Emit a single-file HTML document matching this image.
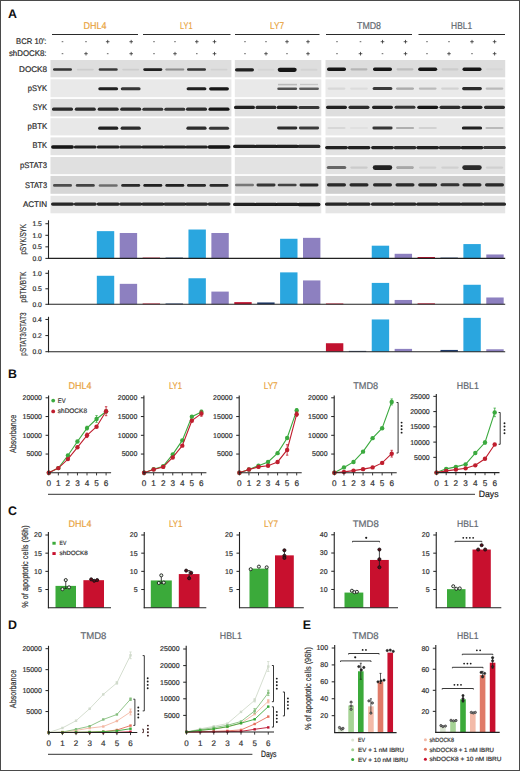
<!DOCTYPE html>
<html><head><meta charset="utf-8"><style>
html,body{margin:0;padding:0;background:#fff;}
svg{display:block;font-family:"Liberation Sans",sans-serif;text-rendering:geometricPrecision;}
</style></head><body>
<svg width="520" height="771" viewBox="0 0 520 771" font-family="Liberation Sans, sans-serif" fill="#222">
<rect x="0" y="0" width="520" height="771" fill="#fff"/>
<text x="8.00" y="18.20" font-size="12.4" fill="#111" font-weight="bold">A</text>
<text x="8.00" y="378.20" font-size="12.4" fill="#111" font-weight="bold">B</text>
<text x="8.00" y="515.20" font-size="12.4" fill="#111" font-weight="bold">C</text>
<text x="8.00" y="628.60" font-size="12.4" fill="#111" font-weight="bold">D</text>
<text x="302.80" y="628.80" font-size="12.4" fill="#111" font-weight="bold">E</text>
<text x="95.00" y="29.20" font-size="9.9" fill="#E9A441" stroke="#E9A441" stroke-width="0.2" text-anchor="middle" textLength="23" lengthAdjust="spacingAndGlyphs">DHL4</text>
<text x="186.20" y="29.20" font-size="9.9" fill="#E9A441" stroke="#E9A441" stroke-width="0.2" text-anchor="middle" textLength="12.6" lengthAdjust="spacingAndGlyphs">LY1</text>
<text x="277.00" y="29.20" font-size="9.9" fill="#E9A441" stroke="#E9A441" stroke-width="0.2" text-anchor="middle" textLength="14" lengthAdjust="spacingAndGlyphs">LY7</text>
<text x="369.00" y="29.20" font-size="9.9" fill="#626870" stroke="#626870" stroke-width="0.2" text-anchor="middle" textLength="24" lengthAdjust="spacingAndGlyphs">TMD8</text>
<text x="461.60" y="29.20" font-size="9.9" fill="#626870" stroke="#626870" stroke-width="0.2" text-anchor="middle" textLength="21" lengthAdjust="spacingAndGlyphs">HBL1</text>
<line x1="52.00" y1="34.50" x2="138.00" y2="34.50" stroke="#2a2a2a" stroke-width="1.1"/>
<line x1="143.00" y1="34.50" x2="230.50" y2="34.50" stroke="#2a2a2a" stroke-width="1.1"/>
<line x1="235.00" y1="34.50" x2="319.50" y2="34.50" stroke="#2a2a2a" stroke-width="1.1"/>
<line x1="326.00" y1="34.50" x2="412.00" y2="34.50" stroke="#2a2a2a" stroke-width="1.1"/>
<line x1="418.50" y1="34.50" x2="505.00" y2="34.50" stroke="#2a2a2a" stroke-width="1.1"/>
<text x="46.50" y="43.70" font-size="8.2" fill="#2a2a2a" stroke="#2a2a2a" stroke-width="0.2" text-anchor="end" textLength="30.4" lengthAdjust="spacingAndGlyphs">BCR 10':</text>
<text x="46.50" y="56.00" font-size="8.2" fill="#2a2a2a" stroke="#2a2a2a" stroke-width="0.2" text-anchor="end" textLength="37.6" lengthAdjust="spacingAndGlyphs">shDOCK8:</text>
<line x1="61.70" y1="41.70" x2="63.30" y2="41.70" stroke="#555" stroke-width="0.9"/>
<line x1="61.70" y1="53.70" x2="63.30" y2="53.70" stroke="#555" stroke-width="0.9"/>
<line x1="85.20" y1="41.70" x2="86.80" y2="41.70" stroke="#555" stroke-width="0.9"/>
<line x1="84.20" y1="53.70" x2="87.80" y2="53.70" stroke="#333" stroke-width="0.8"/>
<line x1="86.00" y1="51.90" x2="86.00" y2="55.50" stroke="#333" stroke-width="0.8"/>
<line x1="105.90" y1="41.70" x2="109.50" y2="41.70" stroke="#333" stroke-width="0.8"/>
<line x1="107.70" y1="39.90" x2="107.70" y2="43.50" stroke="#333" stroke-width="0.8"/>
<line x1="106.90" y1="53.70" x2="108.50" y2="53.70" stroke="#555" stroke-width="0.9"/>
<line x1="129.40" y1="41.70" x2="133.00" y2="41.70" stroke="#333" stroke-width="0.8"/>
<line x1="131.20" y1="39.90" x2="131.20" y2="43.50" stroke="#333" stroke-width="0.8"/>
<line x1="129.40" y1="53.70" x2="133.00" y2="53.70" stroke="#333" stroke-width="0.8"/>
<line x1="131.20" y1="51.90" x2="131.20" y2="55.50" stroke="#333" stroke-width="0.8"/>
<line x1="153.20" y1="41.70" x2="154.80" y2="41.70" stroke="#555" stroke-width="0.9"/>
<line x1="153.20" y1="53.70" x2="154.80" y2="53.70" stroke="#555" stroke-width="0.9"/>
<line x1="174.20" y1="41.70" x2="175.80" y2="41.70" stroke="#555" stroke-width="0.9"/>
<line x1="173.20" y1="53.70" x2="176.80" y2="53.70" stroke="#333" stroke-width="0.8"/>
<line x1="175.00" y1="51.90" x2="175.00" y2="55.50" stroke="#333" stroke-width="0.8"/>
<line x1="195.00" y1="41.70" x2="198.60" y2="41.70" stroke="#333" stroke-width="0.8"/>
<line x1="196.80" y1="39.90" x2="196.80" y2="43.50" stroke="#333" stroke-width="0.8"/>
<line x1="196.00" y1="53.70" x2="197.60" y2="53.70" stroke="#555" stroke-width="0.9"/>
<line x1="212.70" y1="41.70" x2="216.30" y2="41.70" stroke="#333" stroke-width="0.8"/>
<line x1="214.50" y1="39.90" x2="214.50" y2="43.50" stroke="#333" stroke-width="0.8"/>
<line x1="212.70" y1="53.70" x2="216.30" y2="53.70" stroke="#333" stroke-width="0.8"/>
<line x1="214.50" y1="51.90" x2="214.50" y2="55.50" stroke="#333" stroke-width="0.8"/>
<line x1="244.20" y1="41.70" x2="245.80" y2="41.70" stroke="#555" stroke-width="0.9"/>
<line x1="244.20" y1="53.70" x2="245.80" y2="53.70" stroke="#555" stroke-width="0.9"/>
<line x1="265.20" y1="41.70" x2="266.80" y2="41.70" stroke="#555" stroke-width="0.9"/>
<line x1="264.20" y1="53.70" x2="267.80" y2="53.70" stroke="#333" stroke-width="0.8"/>
<line x1="266.00" y1="51.90" x2="266.00" y2="55.50" stroke="#333" stroke-width="0.8"/>
<line x1="285.20" y1="41.70" x2="288.80" y2="41.70" stroke="#333" stroke-width="0.8"/>
<line x1="287.00" y1="39.90" x2="287.00" y2="43.50" stroke="#333" stroke-width="0.8"/>
<line x1="286.20" y1="53.70" x2="287.80" y2="53.70" stroke="#555" stroke-width="0.9"/>
<line x1="306.20" y1="41.70" x2="309.80" y2="41.70" stroke="#333" stroke-width="0.8"/>
<line x1="308.00" y1="39.90" x2="308.00" y2="43.50" stroke="#333" stroke-width="0.8"/>
<line x1="306.20" y1="53.70" x2="309.80" y2="53.70" stroke="#333" stroke-width="0.8"/>
<line x1="308.00" y1="51.90" x2="308.00" y2="55.50" stroke="#333" stroke-width="0.8"/>
<line x1="336.20" y1="41.70" x2="337.80" y2="41.70" stroke="#555" stroke-width="0.9"/>
<line x1="336.20" y1="53.70" x2="337.80" y2="53.70" stroke="#555" stroke-width="0.9"/>
<line x1="359.70" y1="41.70" x2="361.30" y2="41.70" stroke="#555" stroke-width="0.9"/>
<line x1="358.70" y1="53.70" x2="362.30" y2="53.70" stroke="#333" stroke-width="0.8"/>
<line x1="360.50" y1="51.90" x2="360.50" y2="55.50" stroke="#333" stroke-width="0.8"/>
<line x1="380.70" y1="41.70" x2="384.30" y2="41.70" stroke="#333" stroke-width="0.8"/>
<line x1="382.50" y1="39.90" x2="382.50" y2="43.50" stroke="#333" stroke-width="0.8"/>
<line x1="381.70" y1="53.70" x2="383.30" y2="53.70" stroke="#555" stroke-width="0.9"/>
<line x1="403.70" y1="41.70" x2="407.30" y2="41.70" stroke="#333" stroke-width="0.8"/>
<line x1="405.50" y1="39.90" x2="405.50" y2="43.50" stroke="#333" stroke-width="0.8"/>
<line x1="403.70" y1="53.70" x2="407.30" y2="53.70" stroke="#333" stroke-width="0.8"/>
<line x1="405.50" y1="51.90" x2="405.50" y2="55.50" stroke="#333" stroke-width="0.8"/>
<line x1="426.20" y1="41.70" x2="427.80" y2="41.70" stroke="#555" stroke-width="0.9"/>
<line x1="426.20" y1="53.70" x2="427.80" y2="53.70" stroke="#555" stroke-width="0.9"/>
<line x1="448.20" y1="41.70" x2="449.80" y2="41.70" stroke="#555" stroke-width="0.9"/>
<line x1="447.20" y1="53.70" x2="450.80" y2="53.70" stroke="#333" stroke-width="0.8"/>
<line x1="449.00" y1="51.90" x2="449.00" y2="55.50" stroke="#333" stroke-width="0.8"/>
<line x1="470.20" y1="41.70" x2="473.80" y2="41.70" stroke="#333" stroke-width="0.8"/>
<line x1="472.00" y1="39.90" x2="472.00" y2="43.50" stroke="#333" stroke-width="0.8"/>
<line x1="471.20" y1="53.70" x2="472.80" y2="53.70" stroke="#555" stroke-width="0.9"/>
<line x1="492.80" y1="41.70" x2="496.40" y2="41.70" stroke="#333" stroke-width="0.8"/>
<line x1="494.60" y1="39.90" x2="494.60" y2="43.50" stroke="#333" stroke-width="0.8"/>
<line x1="492.80" y1="53.70" x2="496.40" y2="53.70" stroke="#333" stroke-width="0.8"/>
<line x1="494.60" y1="51.90" x2="494.60" y2="55.50" stroke="#333" stroke-width="0.8"/>
<text x="47.10" y="71.90" font-size="8.2" fill="#2a2a2a" stroke="#2a2a2a" stroke-width="0.2" text-anchor="end" textLength="28.1" lengthAdjust="spacingAndGlyphs">DOCK8</text>
<text x="47.10" y="90.80" font-size="8.2" fill="#2a2a2a" stroke="#2a2a2a" stroke-width="0.2" text-anchor="end" textLength="19.3" lengthAdjust="spacingAndGlyphs">pSYK</text>
<text x="47.10" y="109.60" font-size="8.2" fill="#2a2a2a" stroke="#2a2a2a" stroke-width="0.2" text-anchor="end" textLength="14.3" lengthAdjust="spacingAndGlyphs">SYK</text>
<text x="47.10" y="128.80" font-size="8.2" fill="#2a2a2a" stroke="#2a2a2a" stroke-width="0.2" text-anchor="end" textLength="19.5" lengthAdjust="spacingAndGlyphs">pBTK</text>
<text x="47.10" y="148.40" font-size="8.2" fill="#2a2a2a" stroke="#2a2a2a" stroke-width="0.2" text-anchor="end" textLength="14.5" lengthAdjust="spacingAndGlyphs">BTK</text>
<text x="47.10" y="167.60" font-size="8.2" fill="#2a2a2a" stroke="#2a2a2a" stroke-width="0.2" text-anchor="end" textLength="27.2" lengthAdjust="spacingAndGlyphs">pSTAT3</text>
<text x="47.10" y="187.70" font-size="8.2" fill="#2a2a2a" stroke="#2a2a2a" stroke-width="0.2" text-anchor="end" textLength="22.2" lengthAdjust="spacingAndGlyphs">STAT3</text>
<text x="47.10" y="206.50" font-size="8.2" fill="#2a2a2a" stroke="#2a2a2a" stroke-width="0.2" text-anchor="end" textLength="24.2" lengthAdjust="spacingAndGlyphs">ACTIN</text>
<defs><filter id="bl" x="-20%" y="-200%" width="140%" height="500%"><feGaussianBlur stdDeviation="0.65"/></filter></defs>
<rect x="50.50" y="60.00" width="180.90" height="17.30" fill="#dedede"/>
<rect x="234.80" y="60.00" width="86.50" height="17.30" fill="#dedede"/>
<rect x="325.50" y="60.00" width="179.70" height="17.30" fill="#dddddd"/>
<g filter="url(#bl)"><rect x="53.00" y="68.33" width="19.0" height="2.54" rx="1.27" fill="rgba(20,20,20,0.85)"/><rect x="76.80" y="68.75" width="17.0" height="1.71" rx="0.85" fill="rgba(20,20,20,0.08)"/><rect x="98.70" y="68.36" width="19.0" height="2.48" rx="1.24" fill="rgba(20,20,20,0.80)"/><rect x="122.20" y="68.75" width="17.0" height="1.71" rx="0.85" fill="rgba(20,20,20,0.08)"/><rect x="143.30" y="68.28" width="19.0" height="2.65" rx="1.32" fill="rgba(20,20,20,0.95)"/><rect x="165.30" y="68.57" width="19.0" height="2.05" rx="1.03" fill="rgba(20,20,20,0.40)"/><rect x="187.00" y="68.33" width="19.0" height="2.54" rx="1.27" fill="rgba(20,20,20,0.85)"/><rect x="210.50" y="68.76" width="17.0" height="1.68" rx="0.84" fill="rgba(20,20,20,0.06)"/><rect x="235.00" y="68.13" width="19.0" height="3.33" rx="1.67" fill="rgba(20,20,20,0.95)"/><rect x="257.50" y="68.75" width="17.0" height="2.09" rx="1.05" fill="rgba(20,20,20,0.04)"/><rect x="277.70" y="67.65" width="19.0" height="4.30" rx="2.15" fill="rgba(20,20,20,1.00)"/><rect x="300.50" y="68.75" width="17.0" height="2.11" rx="1.05" fill="rgba(20,20,20,0.05)"/><rect x="327.00" y="67.60" width="19.0" height="3.40" rx="1.70" fill="rgba(20,20,20,1.00)"/><rect x="350.50" y="68.16" width="17.0" height="2.28" rx="1.14" fill="rgba(20,20,20,0.18)"/><rect x="373.00" y="67.60" width="19.0" height="3.40" rx="1.70" fill="rgba(20,20,20,1.00)"/><rect x="396.50" y="68.18" width="17.0" height="2.23" rx="1.12" fill="rgba(20,20,20,0.14)"/><rect x="418.20" y="67.60" width="19.0" height="3.40" rx="1.70" fill="rgba(20,20,20,1.00)"/><rect x="441.50" y="68.23" width="17.0" height="2.15" rx="1.07" fill="rgba(20,20,20,0.08)"/><rect x="462.50" y="67.60" width="19.0" height="3.40" rx="1.70" fill="rgba(20,20,20,1.00)"/><rect x="486.00" y="68.26" width="17.0" height="2.08" rx="1.04" fill="rgba(20,20,20,0.03)"/></g>
<rect x="50.50" y="79.30" width="180.90" height="17.90" fill="#e9e9e9"/>
<rect x="234.80" y="79.30" width="86.50" height="17.90" fill="#e9e9e9"/>
<rect x="325.50" y="79.30" width="179.70" height="17.90" fill="#eaeaea"/>
<g filter="url(#bl)"><rect x="98.30" y="87.23" width="19.8" height="3.14" rx="1.57" fill="rgba(20,20,20,0.95)"/><rect x="120.80" y="87.30" width="19.8" height="3.01" rx="1.50" fill="rgba(20,20,20,0.85)"/><rect x="186.60" y="87.23" width="19.8" height="3.14" rx="1.57" fill="rgba(20,20,20,0.95)"/><rect x="209.10" y="87.20" width="19.8" height="3.20" rx="1.60" fill="rgba(20,20,20,1.00)"/><rect x="277.30" y="87.57" width="19.8" height="2.46" rx="1.23" fill="rgba(20,20,20,0.70)"/><rect x="299.10" y="87.60" width="19.8" height="2.41" rx="1.20" fill="rgba(20,20,20,0.65)"/><rect x="327.60" y="87.56" width="17.8" height="2.09" rx="1.04" fill="rgba(20,20,20,0.08)"/><rect x="350.10" y="87.57" width="17.8" height="2.06" rx="1.03" fill="rgba(20,20,20,0.06)"/><rect x="372.60" y="87.08" width="19.8" height="3.04" rx="1.52" fill="rgba(20,20,20,0.80)"/><rect x="396.10" y="87.41" width="17.8" height="2.38" rx="1.19" fill="rgba(20,20,20,0.30)"/><rect x="418.80" y="87.48" width="17.8" height="2.24" rx="1.12" fill="rgba(20,20,20,0.20)"/><rect x="441.10" y="87.54" width="17.8" height="2.11" rx="1.06" fill="rgba(20,20,20,0.10)"/><rect x="462.10" y="87.02" width="19.8" height="3.17" rx="1.58" fill="rgba(20,20,20,0.90)"/><rect x="485.60" y="87.48" width="17.8" height="2.24" rx="1.12" fill="rgba(20,20,20,0.20)"/></g>
<rect x="50.50" y="98.90" width="180.90" height="17.50" fill="#dedede"/>
<rect x="234.80" y="98.90" width="86.50" height="17.50" fill="#e0e0e0"/>
<rect x="325.50" y="98.90" width="179.70" height="17.50" fill="#dedede"/>
<g filter="url(#bl)"><rect x="52.00" y="107.62" width="21.0" height="3.17" rx="1.58" fill="rgba(20,20,20,0.90)"/><rect x="74.80" y="107.62" width="21.0" height="3.17" rx="1.58" fill="rgba(20,20,20,0.90)"/><rect x="97.70" y="107.62" width="21.0" height="3.17" rx="1.58" fill="rgba(20,20,20,0.90)"/><rect x="120.20" y="107.62" width="21.0" height="3.17" rx="1.58" fill="rgba(20,20,20,0.90)"/><rect x="142.30" y="107.65" width="21.0" height="3.10" rx="1.55" fill="rgba(20,20,20,0.85)"/><rect x="164.30" y="107.65" width="21.0" height="3.10" rx="1.55" fill="rgba(20,20,20,0.85)"/><rect x="186.00" y="107.62" width="21.0" height="3.17" rx="1.58" fill="rgba(20,20,20,0.90)"/><rect x="208.50" y="107.55" width="21.0" height="3.30" rx="1.65" fill="rgba(20,20,20,1.00)"/><rect x="234.00" y="105.83" width="21.0" height="3.14" rx="1.57" fill="rgba(20,20,20,0.95)"/><rect x="255.50" y="105.86" width="21.0" height="3.07" rx="1.54" fill="rgba(20,20,20,0.90)"/><rect x="276.70" y="105.83" width="21.0" height="3.14" rx="1.57" fill="rgba(20,20,20,0.95)"/><rect x="298.50" y="105.90" width="21.0" height="3.01" rx="1.50" fill="rgba(20,20,20,0.85)"/><rect x="326.00" y="105.68" width="21.0" height="3.23" rx="1.62" fill="rgba(20,20,20,0.95)"/><rect x="348.50" y="105.72" width="21.0" height="3.17" rx="1.58" fill="rgba(20,20,20,0.90)"/><rect x="372.00" y="105.68" width="21.0" height="3.23" rx="1.62" fill="rgba(20,20,20,0.95)"/><rect x="394.50" y="105.75" width="21.0" height="3.10" rx="1.55" fill="rgba(20,20,20,0.85)"/><rect x="417.20" y="105.65" width="21.0" height="3.30" rx="1.65" fill="rgba(20,20,20,1.00)"/><rect x="439.50" y="105.72" width="21.0" height="3.17" rx="1.58" fill="rgba(20,20,20,0.90)"/><rect x="461.50" y="105.68" width="21.0" height="3.23" rx="1.62" fill="rgba(20,20,20,0.95)"/><rect x="484.00" y="105.72" width="21.0" height="3.17" rx="1.58" fill="rgba(20,20,20,0.90)"/></g>
<rect x="50.50" y="118.20" width="180.90" height="17.20" fill="#e8e8e8"/>
<rect x="234.80" y="118.20" width="86.50" height="17.20" fill="#e6e6e6"/>
<rect x="325.50" y="118.20" width="179.70" height="17.20" fill="#e9e9e9"/>
<g filter="url(#bl)"><rect x="98.10" y="126.58" width="20.2" height="3.23" rx="1.62" fill="rgba(20,20,20,0.95)"/><rect x="120.60" y="126.62" width="20.2" height="3.17" rx="1.58" fill="rgba(20,20,20,0.90)"/><rect x="186.40" y="126.62" width="20.2" height="3.17" rx="1.58" fill="rgba(20,20,20,0.90)"/><rect x="208.90" y="126.65" width="20.2" height="3.10" rx="1.55" fill="rgba(20,20,20,0.85)"/><rect x="277.10" y="126.51" width="20.2" height="2.98" rx="1.49" fill="rgba(20,20,20,0.90)"/><rect x="298.90" y="126.57" width="20.2" height="2.85" rx="1.43" fill="rgba(20,20,20,0.80)"/><rect x="327.40" y="127.02" width="18.2" height="1.96" rx="0.98" fill="rgba(20,20,20,0.08)"/><rect x="349.90" y="127.05" width="18.2" height="1.91" rx="0.95" fill="rgba(20,20,20,0.04)"/><rect x="372.40" y="126.54" width="20.2" height="2.91" rx="1.46" fill="rgba(20,20,20,0.85)"/><rect x="395.90" y="126.92" width="18.2" height="2.17" rx="1.08" fill="rgba(20,20,20,0.25)"/><rect x="418.60" y="127.01" width="18.2" height="1.98" rx="0.99" fill="rgba(20,20,20,0.10)"/><rect x="461.90" y="126.48" width="20.2" height="3.04" rx="1.52" fill="rgba(20,20,20,0.95)"/><rect x="485.40" y="126.95" width="18.2" height="2.11" rx="1.05" fill="rgba(20,20,20,0.20)"/></g>
<rect x="50.50" y="137.40" width="180.90" height="17.80" fill="#e3e3e3"/>
<rect x="234.80" y="137.40" width="86.50" height="17.80" fill="#e4e4e4"/>
<rect x="325.50" y="137.40" width="179.70" height="17.80" fill="#e2e2e2"/>
<g filter="url(#bl)"><rect x="51.10" y="145.35" width="22.8" height="3.30" rx="1.65" fill="rgba(20,20,20,1.00)"/><rect x="73.90" y="145.38" width="22.8" height="3.23" rx="1.62" fill="rgba(20,20,20,0.95)"/><rect x="96.80" y="145.38" width="22.8" height="3.23" rx="1.62" fill="rgba(20,20,20,0.95)"/><rect x="119.30" y="145.42" width="22.8" height="3.17" rx="1.58" fill="rgba(20,20,20,0.90)"/><rect x="141.40" y="145.38" width="22.8" height="3.23" rx="1.62" fill="rgba(20,20,20,0.95)"/><rect x="163.40" y="145.38" width="22.8" height="3.23" rx="1.62" fill="rgba(20,20,20,0.95)"/><rect x="185.10" y="145.38" width="22.8" height="3.23" rx="1.62" fill="rgba(20,20,20,0.95)"/><rect x="207.60" y="145.35" width="22.8" height="3.30" rx="1.65" fill="rgba(20,20,20,1.00)"/><rect x="233.10" y="144.83" width="22.8" height="3.14" rx="1.57" fill="rgba(20,20,20,0.95)"/><rect x="254.60" y="144.83" width="22.8" height="3.14" rx="1.57" fill="rgba(20,20,20,0.95)"/><rect x="275.80" y="144.83" width="22.8" height="3.14" rx="1.57" fill="rgba(20,20,20,0.95)"/><rect x="297.60" y="144.86" width="22.8" height="3.07" rx="1.54" fill="rgba(20,20,20,0.90)"/><rect x="325.10" y="146.03" width="22.8" height="3.14" rx="1.57" fill="rgba(20,20,20,0.95)"/><rect x="347.60" y="146.03" width="22.8" height="3.14" rx="1.57" fill="rgba(20,20,20,0.95)"/><rect x="371.10" y="146.03" width="22.8" height="3.14" rx="1.57" fill="rgba(20,20,20,0.95)"/><rect x="393.60" y="146.06" width="22.8" height="3.07" rx="1.54" fill="rgba(20,20,20,0.90)"/><rect x="416.30" y="146.03" width="22.8" height="3.14" rx="1.57" fill="rgba(20,20,20,0.95)"/><rect x="438.60" y="146.06" width="22.8" height="3.07" rx="1.54" fill="rgba(20,20,20,0.90)"/><rect x="460.60" y="146.03" width="22.8" height="3.14" rx="1.57" fill="rgba(20,20,20,0.95)"/><rect x="483.10" y="146.10" width="22.8" height="3.01" rx="1.50" fill="rgba(20,20,20,0.85)"/></g>
<rect x="50.50" y="157.00" width="180.90" height="17.20" fill="#e0e0e0"/>
<rect x="234.80" y="157.00" width="86.50" height="17.20" fill="#e3e3e3"/>
<rect x="325.50" y="157.00" width="179.70" height="17.20" fill="#e2e2e2"/>
<g filter="url(#bl)"><rect x="326.75" y="166.09" width="19.5" height="3.02" rx="1.51" fill="rgba(20,20,20,0.60)"/><rect x="350.25" y="166.45" width="17.5" height="2.30" rx="1.15" fill="rgba(20,20,20,0.10)"/><rect x="372.75" y="165.30" width="19.5" height="4.60" rx="2.30" fill="rgba(20,20,20,0.95)"/><rect x="396.25" y="166.30" width="17.5" height="2.59" rx="1.30" fill="rgba(20,20,20,0.30)"/><rect x="418.95" y="166.46" width="17.5" height="2.28" rx="1.14" fill="rgba(20,20,20,0.08)"/><rect x="441.25" y="166.46" width="17.5" height="2.28" rx="1.14" fill="rgba(20,20,20,0.08)"/><rect x="462.25" y="165.30" width="19.5" height="4.60" rx="2.30" fill="rgba(20,20,20,0.90)"/><rect x="485.75" y="166.46" width="17.5" height="2.28" rx="1.14" fill="rgba(20,20,20,0.08)"/></g>
<rect x="50.50" y="175.90" width="180.90" height="17.90" fill="#d6d6d6"/>
<rect x="234.80" y="175.90" width="86.50" height="17.90" fill="#d8d8d8"/>
<rect x="325.50" y="175.90" width="179.70" height="17.90" fill="#cecece"/>
<g filter="url(#bl)"><rect x="53.00" y="184.08" width="19.0" height="2.64" rx="1.32" fill="rgba(20,20,20,0.70)"/><rect x="75.80" y="184.05" width="19.0" height="2.70" rx="1.35" fill="rgba(20,20,20,0.75)"/><rect x="98.70" y="184.17" width="19.0" height="2.46" rx="1.23" fill="rgba(20,20,20,0.55)"/><rect x="121.20" y="183.96" width="19.0" height="2.88" rx="1.44" fill="rgba(20,20,20,0.90)"/><rect x="143.30" y="183.93" width="19.0" height="2.94" rx="1.47" fill="rgba(20,20,20,0.95)"/><rect x="165.30" y="183.93" width="19.0" height="2.94" rx="1.47" fill="rgba(20,20,20,0.95)"/><rect x="187.00" y="183.96" width="19.0" height="2.88" rx="1.44" fill="rgba(20,20,20,0.90)"/><rect x="209.50" y="183.96" width="19.0" height="2.88" rx="1.44" fill="rgba(20,20,20,0.90)"/><rect x="235.00" y="183.80" width="19.0" height="2.40" rx="1.20" fill="rgba(20,20,20,0.50)"/><rect x="256.50" y="183.59" width="19.0" height="2.82" rx="1.41" fill="rgba(20,20,20,0.85)"/><rect x="277.70" y="183.65" width="19.0" height="2.70" rx="1.35" fill="rgba(20,20,20,0.75)"/><rect x="299.50" y="183.56" width="19.0" height="2.88" rx="1.44" fill="rgba(20,20,20,0.90)"/><rect x="327.00" y="183.22" width="19.0" height="3.17" rx="1.58" fill="rgba(20,20,20,0.90)"/><rect x="349.50" y="183.22" width="19.0" height="3.17" rx="1.58" fill="rgba(20,20,20,0.90)"/><rect x="373.00" y="183.22" width="19.0" height="3.17" rx="1.58" fill="rgba(20,20,20,0.90)"/><rect x="395.50" y="183.22" width="19.0" height="3.17" rx="1.58" fill="rgba(20,20,20,0.90)"/><rect x="418.20" y="183.22" width="19.0" height="3.17" rx="1.58" fill="rgba(20,20,20,0.90)"/><rect x="440.50" y="183.25" width="19.0" height="3.10" rx="1.55" fill="rgba(20,20,20,0.85)"/><rect x="462.50" y="183.22" width="19.0" height="3.17" rx="1.58" fill="rgba(20,20,20,0.90)"/><rect x="485.00" y="183.22" width="19.0" height="3.17" rx="1.58" fill="rgba(20,20,20,0.90)"/></g>
<rect x="50.50" y="195.80" width="180.90" height="17.50" fill="#e6e6e6"/>
<rect x="234.80" y="195.80" width="86.50" height="17.50" fill="#e6e6e6"/>
<rect x="325.50" y="195.80" width="179.70" height="17.50" fill="#e5e5e5"/>
<g filter="url(#bl)"><rect x="51.00" y="202.45" width="23.0" height="3.29" rx="1.65" fill="rgba(20,20,20,0.92)"/><rect x="73.80" y="202.47" width="23.0" height="3.26" rx="1.63" fill="rgba(20,20,20,0.90)"/><rect x="96.70" y="202.45" width="23.0" height="3.29" rx="1.65" fill="rgba(20,20,20,0.92)"/><rect x="119.20" y="202.47" width="23.0" height="3.26" rx="1.63" fill="rgba(20,20,20,0.90)"/><rect x="141.30" y="202.45" width="23.0" height="3.29" rx="1.65" fill="rgba(20,20,20,0.92)"/><rect x="163.30" y="202.47" width="23.0" height="3.26" rx="1.63" fill="rgba(20,20,20,0.90)"/><rect x="185.00" y="202.47" width="23.0" height="3.26" rx="1.63" fill="rgba(20,20,20,0.90)"/><rect x="207.50" y="202.47" width="23.0" height="3.26" rx="1.63" fill="rgba(20,20,20,0.90)"/><rect x="233.00" y="202.69" width="23.0" height="3.43" rx="1.71" fill="rgba(20,20,20,0.95)"/><rect x="254.50" y="202.69" width="23.0" height="3.43" rx="1.71" fill="rgba(20,20,20,0.95)"/><rect x="275.70" y="202.69" width="23.0" height="3.43" rx="1.71" fill="rgba(20,20,20,0.95)"/><rect x="297.50" y="202.67" width="23.0" height="3.46" rx="1.73" fill="rgba(20,20,20,0.97)"/><rect x="325.00" y="202.60" width="23.0" height="3.19" rx="1.60" fill="rgba(20,20,20,0.92)"/><rect x="347.50" y="202.60" width="23.0" height="3.19" rx="1.60" fill="rgba(20,20,20,0.92)"/><rect x="371.00" y="202.60" width="23.0" height="3.19" rx="1.60" fill="rgba(20,20,20,0.92)"/><rect x="393.50" y="202.60" width="23.0" height="3.19" rx="1.60" fill="rgba(20,20,20,0.92)"/><rect x="416.20" y="202.60" width="23.0" height="3.19" rx="1.60" fill="rgba(20,20,20,0.92)"/><rect x="438.50" y="202.60" width="23.0" height="3.19" rx="1.60" fill="rgba(20,20,20,0.92)"/><rect x="460.50" y="202.60" width="23.0" height="3.19" rx="1.60" fill="rgba(20,20,20,0.92)"/><rect x="483.00" y="202.62" width="23.0" height="3.17" rx="1.58" fill="rgba(20,20,20,0.90)"/></g>
<g filter="url(#bl)"><rect x="278" y="83.8" width="19" height="1.6" fill="rgba(20,20,20,0.2)"/><rect x="300" y="83.8" width="18" height="1.4" fill="rgba(20,20,20,0.15)"/></g>
<rect x="96.82" y="231.14" width="17.40" height="27.26" fill="#2AA6DF"/>
<rect x="119.73" y="232.99" width="17.40" height="25.41" fill="#8D80C0"/>
<rect x="142.64" y="257.60" width="17.40" height="0.80" fill="#C1122F"/>
<rect x="165.55" y="257.60" width="17.40" height="0.80" fill="#1E3A6B"/>
<rect x="188.46" y="229.52" width="17.40" height="28.88" fill="#2AA6DF"/>
<rect x="211.37" y="232.99" width="17.40" height="25.41" fill="#8D80C0"/>
<rect x="280.10" y="238.76" width="17.40" height="19.64" fill="#2AA6DF"/>
<rect x="303.01" y="237.84" width="17.40" height="20.56" fill="#8D80C0"/>
<rect x="371.74" y="245.69" width="17.40" height="12.71" fill="#2AA6DF"/>
<rect x="394.65" y="253.78" width="17.40" height="4.62" fill="#8D80C0"/>
<rect x="417.56" y="257.01" width="17.40" height="1.39" fill="#C1122F"/>
<rect x="440.47" y="257.60" width="17.40" height="0.80" fill="#1E3A6B"/>
<rect x="463.38" y="244.08" width="17.40" height="14.32" fill="#2AA6DF"/>
<rect x="486.29" y="254.47" width="17.40" height="3.93" fill="#8D80C0"/>
<line x1="48.50" y1="220.30" x2="48.50" y2="258.90" stroke="#222" stroke-width="1.1"/>
<line x1="48.00" y1="258.40" x2="505.20" y2="258.40" stroke="#222" stroke-width="1.1"/>
<line x1="45.40" y1="258.40" x2="48.50" y2="258.40" stroke="#222" stroke-width="1"/>
<text x="41.80" y="260.80" font-size="6.8" fill="#333" stroke="#333" stroke-width="0.2" text-anchor="end" textLength="9.4" lengthAdjust="spacingAndGlyphs">0.0</text>
<line x1="45.40" y1="246.85" x2="48.50" y2="246.85" stroke="#222" stroke-width="1"/>
<text x="41.80" y="249.25" font-size="6.8" fill="#333" stroke="#333" stroke-width="0.2" text-anchor="end" textLength="9.4" lengthAdjust="spacingAndGlyphs">0.5</text>
<line x1="45.40" y1="235.30" x2="48.50" y2="235.30" stroke="#222" stroke-width="1"/>
<text x="41.80" y="237.70" font-size="6.8" fill="#333" stroke="#333" stroke-width="0.2" text-anchor="end" textLength="9.4" lengthAdjust="spacingAndGlyphs">1.0</text>
<line x1="45.40" y1="223.75" x2="48.50" y2="223.75" stroke="#222" stroke-width="1"/>
<text x="41.80" y="226.15" font-size="6.8" fill="#333" stroke="#333" stroke-width="0.2" text-anchor="end" textLength="9.4" lengthAdjust="spacingAndGlyphs">1.5</text>
<text x="26.00" y="239.20" font-size="8.6" fill="#333" stroke="#333" stroke-width="0.2" text-anchor="middle" textLength="30.4" lengthAdjust="spacingAndGlyphs" transform="rotate(-90 26.00 239.20)">pSYK/SYK</text>
<rect x="96.82" y="275.78" width="17.40" height="28.52" fill="#2AA6DF"/>
<rect x="119.73" y="283.84" width="17.40" height="20.46" fill="#8D80C0"/>
<rect x="142.64" y="303.50" width="17.40" height="0.80" fill="#C1122F"/>
<rect x="165.55" y="303.50" width="17.40" height="0.80" fill="#1E3A6B"/>
<rect x="188.46" y="278.26" width="17.40" height="26.04" fill="#2AA6DF"/>
<rect x="211.37" y="291.59" width="17.40" height="12.71" fill="#8D80C0"/>
<rect x="234.28" y="302.13" width="17.40" height="2.17" fill="#C1122F"/>
<rect x="257.19" y="302.44" width="17.40" height="1.86" fill="#1E3A6B"/>
<rect x="280.10" y="272.37" width="17.40" height="31.93" fill="#2AA6DF"/>
<rect x="303.01" y="280.43" width="17.40" height="23.87" fill="#8D80C0"/>
<rect x="325.92" y="303.50" width="17.40" height="0.80" fill="#C1122F"/>
<rect x="371.74" y="282.91" width="17.40" height="21.39" fill="#2AA6DF"/>
<rect x="394.65" y="299.96" width="17.40" height="4.34" fill="#8D80C0"/>
<rect x="417.56" y="303.37" width="17.40" height="0.93" fill="#C1122F"/>
<rect x="463.38" y="284.77" width="17.40" height="19.53" fill="#2AA6DF"/>
<rect x="486.29" y="297.48" width="17.40" height="6.82" fill="#8D80C0"/>
<line x1="48.50" y1="270.20" x2="48.50" y2="304.80" stroke="#222" stroke-width="1.1"/>
<line x1="48.00" y1="304.30" x2="505.20" y2="304.30" stroke="#222" stroke-width="1.1"/>
<line x1="45.40" y1="304.30" x2="48.50" y2="304.30" stroke="#222" stroke-width="1"/>
<text x="41.80" y="306.70" font-size="6.8" fill="#333" stroke="#333" stroke-width="0.2" text-anchor="end" textLength="9.4" lengthAdjust="spacingAndGlyphs">0.0</text>
<line x1="45.40" y1="288.80" x2="48.50" y2="288.80" stroke="#222" stroke-width="1"/>
<text x="41.80" y="291.20" font-size="6.8" fill="#333" stroke="#333" stroke-width="0.2" text-anchor="end" textLength="9.4" lengthAdjust="spacingAndGlyphs">0.5</text>
<line x1="45.40" y1="273.30" x2="48.50" y2="273.30" stroke="#222" stroke-width="1"/>
<text x="41.80" y="275.70" font-size="6.8" fill="#333" stroke="#333" stroke-width="0.2" text-anchor="end" textLength="9.4" lengthAdjust="spacingAndGlyphs">1.0</text>
<text x="26.00" y="287.00" font-size="8.6" fill="#333" stroke="#333" stroke-width="0.2" text-anchor="middle" textLength="30.8" lengthAdjust="spacingAndGlyphs" transform="rotate(-90 26.00 287.00)">pBTK/BTK</text>
<rect x="325.92" y="343.24" width="17.40" height="8.46" fill="#C1122F"/>
<rect x="348.83" y="350.90" width="17.40" height="0.80" fill="#1E3A6B"/>
<rect x="371.74" y="319.46" width="17.40" height="32.24" fill="#2AA6DF"/>
<rect x="394.65" y="348.88" width="17.40" height="2.82" fill="#8D80C0"/>
<rect x="440.47" y="349.93" width="17.40" height="1.77" fill="#1E3A6B"/>
<rect x="463.38" y="317.85" width="17.40" height="33.85" fill="#2AA6DF"/>
<rect x="486.29" y="349.28" width="17.40" height="2.42" fill="#8D80C0"/>
<line x1="48.50" y1="316.80" x2="48.50" y2="352.20" stroke="#222" stroke-width="1.1"/>
<line x1="48.00" y1="351.70" x2="505.20" y2="351.70" stroke="#222" stroke-width="1.1"/>
<line x1="45.40" y1="351.70" x2="48.50" y2="351.70" stroke="#222" stroke-width="1"/>
<text x="41.80" y="354.10" font-size="6.8" fill="#333" stroke="#333" stroke-width="0.2" text-anchor="end" textLength="9.4" lengthAdjust="spacingAndGlyphs">0.0</text>
<line x1="45.40" y1="335.58" x2="48.50" y2="335.58" stroke="#222" stroke-width="1"/>
<text x="41.80" y="337.98" font-size="6.8" fill="#333" stroke="#333" stroke-width="0.2" text-anchor="end" textLength="9.4" lengthAdjust="spacingAndGlyphs">0.2</text>
<line x1="45.40" y1="319.46" x2="48.50" y2="319.46" stroke="#222" stroke-width="1"/>
<text x="41.80" y="321.86" font-size="6.8" fill="#333" stroke="#333" stroke-width="0.2" text-anchor="end" textLength="9.4" lengthAdjust="spacingAndGlyphs">0.4</text>
<text x="26.00" y="334.00" font-size="8.6" fill="#333" stroke="#333" stroke-width="0.2" text-anchor="middle" textLength="43.3" lengthAdjust="spacingAndGlyphs" transform="rotate(-90 26.00 334.00)">pSTAT3/STAT3</text>
<path d="M48.80,472.80 L58.35,468.10 L67.90,455.50 L77.45,441.50 L87.00,428.10 L96.55,419.00 L106.10,411.50" stroke="#3BAA3F" stroke-width="1.1" fill="none"/>
<line x1="96.55" y1="415.62" x2="96.55" y2="422.37" stroke="#3BAA3F" stroke-width="0.8"/>
<line x1="95.35" y1="415.62" x2="97.75" y2="415.62" stroke="#3BAA3F" stroke-width="0.8"/>
<line x1="95.35" y1="422.37" x2="97.75" y2="422.37" stroke="#3BAA3F" stroke-width="0.8"/>
<line x1="87.00" y1="426.23" x2="87.00" y2="429.98" stroke="#3BAA3F" stroke-width="0.8"/>
<line x1="85.80" y1="426.23" x2="88.20" y2="426.23" stroke="#3BAA3F" stroke-width="0.8"/>
<line x1="85.80" y1="429.98" x2="88.20" y2="429.98" stroke="#3BAA3F" stroke-width="0.8"/>
<circle cx="48.80" cy="472.80" r="2.2" fill="#3BAA3F"/>
<circle cx="58.35" cy="468.10" r="2.2" fill="#3BAA3F"/>
<circle cx="67.90" cy="455.50" r="2.2" fill="#3BAA3F"/>
<circle cx="77.45" cy="441.50" r="2.2" fill="#3BAA3F"/>
<circle cx="87.00" cy="428.10" r="2.2" fill="#3BAA3F"/>
<circle cx="96.55" cy="419.00" r="2.2" fill="#3BAA3F"/>
<circle cx="106.10" cy="411.50" r="2.2" fill="#3BAA3F"/>
<path d="M48.80,472.80 L58.35,468.10 L67.90,459.10 L77.45,447.30 L87.00,435.30 L96.55,426.70 L106.10,411.20" stroke="#BF1E2E" stroke-width="1.1" fill="none"/>
<line x1="106.10" y1="406.70" x2="106.10" y2="415.70" stroke="#BF1E2E" stroke-width="0.8"/>
<line x1="104.90" y1="406.70" x2="107.30" y2="406.70" stroke="#BF1E2E" stroke-width="0.8"/>
<line x1="104.90" y1="415.70" x2="107.30" y2="415.70" stroke="#BF1E2E" stroke-width="0.8"/>
<line x1="87.00" y1="433.05" x2="87.00" y2="437.55" stroke="#BF1E2E" stroke-width="0.8"/>
<line x1="85.80" y1="433.05" x2="88.20" y2="433.05" stroke="#BF1E2E" stroke-width="0.8"/>
<line x1="85.80" y1="437.55" x2="88.20" y2="437.55" stroke="#BF1E2E" stroke-width="0.8"/>
<circle cx="48.80" cy="472.80" r="2.2" fill="#BF1E2E"/>
<circle cx="58.35" cy="468.10" r="2.2" fill="#BF1E2E"/>
<circle cx="67.90" cy="459.10" r="2.2" fill="#BF1E2E"/>
<circle cx="77.45" cy="447.30" r="2.2" fill="#BF1E2E"/>
<circle cx="87.00" cy="435.30" r="2.2" fill="#BF1E2E"/>
<circle cx="96.55" cy="426.70" r="2.2" fill="#BF1E2E"/>
<circle cx="106.10" cy="411.20" r="2.2" fill="#BF1E2E"/>
<line x1="48.60" y1="395.50" x2="48.60" y2="473.30" stroke="#222" stroke-width="1.1"/>
<line x1="48.10" y1="472.80" x2="111.10" y2="472.80" stroke="#222" stroke-width="1.1"/>
<line x1="48.80" y1="472.80" x2="48.80" y2="475.40" stroke="#222" stroke-width="0.9"/>
<text x="48.80" y="485.70" font-size="8.2" fill="#333" stroke="#333" stroke-width="0.2" text-anchor="middle">0</text>
<line x1="58.35" y1="472.80" x2="58.35" y2="475.40" stroke="#222" stroke-width="0.9"/>
<text x="58.35" y="485.70" font-size="8.2" fill="#333" stroke="#333" stroke-width="0.2" text-anchor="middle">1</text>
<line x1="67.90" y1="472.80" x2="67.90" y2="475.40" stroke="#222" stroke-width="0.9"/>
<text x="67.90" y="485.70" font-size="8.2" fill="#333" stroke="#333" stroke-width="0.2" text-anchor="middle">2</text>
<line x1="77.45" y1="472.80" x2="77.45" y2="475.40" stroke="#222" stroke-width="0.9"/>
<text x="77.45" y="485.70" font-size="8.2" fill="#333" stroke="#333" stroke-width="0.2" text-anchor="middle">3</text>
<line x1="87.00" y1="472.80" x2="87.00" y2="475.40" stroke="#222" stroke-width="0.9"/>
<text x="87.00" y="485.70" font-size="8.2" fill="#333" stroke="#333" stroke-width="0.2" text-anchor="middle">4</text>
<line x1="96.55" y1="472.80" x2="96.55" y2="475.40" stroke="#222" stroke-width="0.9"/>
<text x="96.55" y="485.70" font-size="8.2" fill="#333" stroke="#333" stroke-width="0.2" text-anchor="middle">5</text>
<line x1="106.10" y1="472.80" x2="106.10" y2="475.40" stroke="#222" stroke-width="0.9"/>
<text x="106.10" y="485.70" font-size="8.2" fill="#333" stroke="#333" stroke-width="0.2" text-anchor="middle">6</text>
<line x1="45.60" y1="454.05" x2="48.60" y2="454.05" stroke="#222" stroke-width="1"/>
<text x="42.00" y="456.45" font-size="7.0" fill="#333" stroke="#333" stroke-width="0.2" text-anchor="end" textLength="15.6" lengthAdjust="spacingAndGlyphs">5000</text>
<line x1="45.60" y1="435.30" x2="48.60" y2="435.30" stroke="#222" stroke-width="1"/>
<text x="42.00" y="437.70" font-size="7.0" fill="#333" stroke="#333" stroke-width="0.2" text-anchor="end" textLength="19.5" lengthAdjust="spacingAndGlyphs">10000</text>
<line x1="45.60" y1="416.55" x2="48.60" y2="416.55" stroke="#222" stroke-width="1"/>
<text x="42.00" y="418.95" font-size="7.0" fill="#333" stroke="#333" stroke-width="0.2" text-anchor="end" textLength="19.5" lengthAdjust="spacingAndGlyphs">15000</text>
<line x1="45.60" y1="397.80" x2="48.60" y2="397.80" stroke="#222" stroke-width="1"/>
<text x="42.00" y="400.20" font-size="7.0" fill="#333" stroke="#333" stroke-width="0.2" text-anchor="end" textLength="19.5" lengthAdjust="spacingAndGlyphs">20000</text>
<text x="80.10" y="389.40" font-size="9.7" fill="#E9A441" stroke="#E9A441" stroke-width="0.2" text-anchor="middle" textLength="23" lengthAdjust="spacingAndGlyphs">DHL4</text>
<path d="M144.10,472.80 L153.65,469.16 L163.20,466.16 L172.75,454.43 L182.30,440.40 L191.85,416.66 L201.40,411.90" stroke="#3BAA3F" stroke-width="1.1" fill="none"/>
<line x1="201.40" y1="410.02" x2="201.40" y2="413.77" stroke="#3BAA3F" stroke-width="0.8"/>
<line x1="200.20" y1="410.02" x2="202.60" y2="410.02" stroke="#3BAA3F" stroke-width="0.8"/>
<line x1="200.20" y1="413.77" x2="202.60" y2="413.77" stroke="#3BAA3F" stroke-width="0.8"/>
<circle cx="144.10" cy="472.80" r="2.2" fill="#3BAA3F"/>
<circle cx="153.65" cy="469.16" r="2.2" fill="#3BAA3F"/>
<circle cx="163.20" cy="466.16" r="2.2" fill="#3BAA3F"/>
<circle cx="172.75" cy="454.43" r="2.2" fill="#3BAA3F"/>
<circle cx="182.30" cy="440.40" r="2.2" fill="#3BAA3F"/>
<circle cx="191.85" cy="416.66" r="2.2" fill="#3BAA3F"/>
<circle cx="201.40" cy="411.90" r="2.2" fill="#3BAA3F"/>
<path d="M144.10,472.80 L153.65,469.43 L163.20,466.91 L172.75,457.43 L182.30,445.65 L191.85,420.68 L201.40,413.66" stroke="#BF1E2E" stroke-width="1.1" fill="none"/>
<line x1="201.40" y1="411.04" x2="201.40" y2="416.29" stroke="#BF1E2E" stroke-width="0.8"/>
<line x1="200.20" y1="411.04" x2="202.60" y2="411.04" stroke="#BF1E2E" stroke-width="0.8"/>
<line x1="200.20" y1="416.29" x2="202.60" y2="416.29" stroke="#BF1E2E" stroke-width="0.8"/>
<circle cx="144.10" cy="472.80" r="2.2" fill="#BF1E2E"/>
<circle cx="153.65" cy="469.43" r="2.2" fill="#BF1E2E"/>
<circle cx="163.20" cy="466.91" r="2.2" fill="#BF1E2E"/>
<circle cx="172.75" cy="457.43" r="2.2" fill="#BF1E2E"/>
<circle cx="182.30" cy="445.65" r="2.2" fill="#BF1E2E"/>
<circle cx="191.85" cy="420.68" r="2.2" fill="#BF1E2E"/>
<circle cx="201.40" cy="413.66" r="2.2" fill="#BF1E2E"/>
<line x1="143.90" y1="395.50" x2="143.90" y2="473.30" stroke="#222" stroke-width="1.1"/>
<line x1="143.40" y1="472.80" x2="206.40" y2="472.80" stroke="#222" stroke-width="1.1"/>
<line x1="144.10" y1="472.80" x2="144.10" y2="475.40" stroke="#222" stroke-width="0.9"/>
<text x="144.10" y="485.70" font-size="8.2" fill="#333" stroke="#333" stroke-width="0.2" text-anchor="middle">0</text>
<line x1="153.65" y1="472.80" x2="153.65" y2="475.40" stroke="#222" stroke-width="0.9"/>
<text x="153.65" y="485.70" font-size="8.2" fill="#333" stroke="#333" stroke-width="0.2" text-anchor="middle">1</text>
<line x1="163.20" y1="472.80" x2="163.20" y2="475.40" stroke="#222" stroke-width="0.9"/>
<text x="163.20" y="485.70" font-size="8.2" fill="#333" stroke="#333" stroke-width="0.2" text-anchor="middle">2</text>
<line x1="172.75" y1="472.80" x2="172.75" y2="475.40" stroke="#222" stroke-width="0.9"/>
<text x="172.75" y="485.70" font-size="8.2" fill="#333" stroke="#333" stroke-width="0.2" text-anchor="middle">3</text>
<line x1="182.30" y1="472.80" x2="182.30" y2="475.40" stroke="#222" stroke-width="0.9"/>
<text x="182.30" y="485.70" font-size="8.2" fill="#333" stroke="#333" stroke-width="0.2" text-anchor="middle">4</text>
<line x1="191.85" y1="472.80" x2="191.85" y2="475.40" stroke="#222" stroke-width="0.9"/>
<text x="191.85" y="485.70" font-size="8.2" fill="#333" stroke="#333" stroke-width="0.2" text-anchor="middle">5</text>
<line x1="201.40" y1="472.80" x2="201.40" y2="475.40" stroke="#222" stroke-width="0.9"/>
<text x="201.40" y="485.70" font-size="8.2" fill="#333" stroke="#333" stroke-width="0.2" text-anchor="middle">6</text>
<line x1="140.90" y1="454.05" x2="143.90" y2="454.05" stroke="#222" stroke-width="1"/>
<text x="137.30" y="456.45" font-size="7.0" fill="#333" stroke="#333" stroke-width="0.2" text-anchor="end" textLength="15.6" lengthAdjust="spacingAndGlyphs">5000</text>
<line x1="140.90" y1="435.30" x2="143.90" y2="435.30" stroke="#222" stroke-width="1"/>
<text x="137.30" y="437.70" font-size="7.0" fill="#333" stroke="#333" stroke-width="0.2" text-anchor="end" textLength="19.5" lengthAdjust="spacingAndGlyphs">10000</text>
<line x1="140.90" y1="416.55" x2="143.90" y2="416.55" stroke="#222" stroke-width="1"/>
<text x="137.30" y="418.95" font-size="7.0" fill="#333" stroke="#333" stroke-width="0.2" text-anchor="end" textLength="19.5" lengthAdjust="spacingAndGlyphs">15000</text>
<line x1="140.90" y1="397.80" x2="143.90" y2="397.80" stroke="#222" stroke-width="1"/>
<text x="137.30" y="400.20" font-size="7.0" fill="#333" stroke="#333" stroke-width="0.2" text-anchor="end" textLength="19.5" lengthAdjust="spacingAndGlyphs">20000</text>
<text x="175.40" y="389.40" font-size="9.7" fill="#E9A441" stroke="#E9A441" stroke-width="0.2" text-anchor="middle" textLength="13" lengthAdjust="spacingAndGlyphs">LY1</text>
<path d="M239.40,472.80 L248.95,469.43 L258.50,465.68 L268.05,461.93 L277.60,453.15 L287.15,437.93 L296.70,410.40" stroke="#3BAA3F" stroke-width="1.1" fill="none"/>
<line x1="296.70" y1="408.53" x2="296.70" y2="412.28" stroke="#3BAA3F" stroke-width="0.8"/>
<line x1="295.50" y1="408.53" x2="297.90" y2="408.53" stroke="#3BAA3F" stroke-width="0.8"/>
<line x1="295.50" y1="412.28" x2="297.90" y2="412.28" stroke="#3BAA3F" stroke-width="0.8"/>
<circle cx="239.40" cy="472.80" r="2.2" fill="#3BAA3F"/>
<circle cx="248.95" cy="469.43" r="2.2" fill="#3BAA3F"/>
<circle cx="258.50" cy="465.68" r="2.2" fill="#3BAA3F"/>
<circle cx="268.05" cy="461.93" r="2.2" fill="#3BAA3F"/>
<circle cx="277.60" cy="453.15" r="2.2" fill="#3BAA3F"/>
<circle cx="287.15" cy="437.93" r="2.2" fill="#3BAA3F"/>
<circle cx="296.70" cy="410.40" r="2.2" fill="#3BAA3F"/>
<path d="M239.40,472.80 L248.95,469.43 L258.50,466.91 L268.05,465.68 L277.60,461.93 L287.15,449.93 L296.70,414.15" stroke="#BF1E2E" stroke-width="1.1" fill="none"/>
<line x1="287.15" y1="444.68" x2="287.15" y2="455.18" stroke="#BF1E2E" stroke-width="0.8"/>
<line x1="285.95" y1="444.68" x2="288.35" y2="444.68" stroke="#BF1E2E" stroke-width="0.8"/>
<line x1="285.95" y1="455.18" x2="288.35" y2="455.18" stroke="#BF1E2E" stroke-width="0.8"/>
<line x1="296.70" y1="411.90" x2="296.70" y2="416.40" stroke="#BF1E2E" stroke-width="0.8"/>
<line x1="295.50" y1="411.90" x2="297.90" y2="411.90" stroke="#BF1E2E" stroke-width="0.8"/>
<line x1="295.50" y1="416.40" x2="297.90" y2="416.40" stroke="#BF1E2E" stroke-width="0.8"/>
<circle cx="239.40" cy="472.80" r="2.2" fill="#BF1E2E"/>
<circle cx="248.95" cy="469.43" r="2.2" fill="#BF1E2E"/>
<circle cx="258.50" cy="466.91" r="2.2" fill="#BF1E2E"/>
<circle cx="268.05" cy="465.68" r="2.2" fill="#BF1E2E"/>
<circle cx="277.60" cy="461.93" r="2.2" fill="#BF1E2E"/>
<circle cx="287.15" cy="449.93" r="2.2" fill="#BF1E2E"/>
<circle cx="296.70" cy="414.15" r="2.2" fill="#BF1E2E"/>
<line x1="239.20" y1="395.50" x2="239.20" y2="473.30" stroke="#222" stroke-width="1.1"/>
<line x1="238.70" y1="472.80" x2="301.70" y2="472.80" stroke="#222" stroke-width="1.1"/>
<line x1="239.40" y1="472.80" x2="239.40" y2="475.40" stroke="#222" stroke-width="0.9"/>
<text x="239.40" y="485.70" font-size="8.2" fill="#333" stroke="#333" stroke-width="0.2" text-anchor="middle">0</text>
<line x1="248.95" y1="472.80" x2="248.95" y2="475.40" stroke="#222" stroke-width="0.9"/>
<text x="248.95" y="485.70" font-size="8.2" fill="#333" stroke="#333" stroke-width="0.2" text-anchor="middle">1</text>
<line x1="258.50" y1="472.80" x2="258.50" y2="475.40" stroke="#222" stroke-width="0.9"/>
<text x="258.50" y="485.70" font-size="8.2" fill="#333" stroke="#333" stroke-width="0.2" text-anchor="middle">2</text>
<line x1="268.05" y1="472.80" x2="268.05" y2="475.40" stroke="#222" stroke-width="0.9"/>
<text x="268.05" y="485.70" font-size="8.2" fill="#333" stroke="#333" stroke-width="0.2" text-anchor="middle">3</text>
<line x1="277.60" y1="472.80" x2="277.60" y2="475.40" stroke="#222" stroke-width="0.9"/>
<text x="277.60" y="485.70" font-size="8.2" fill="#333" stroke="#333" stroke-width="0.2" text-anchor="middle">4</text>
<line x1="287.15" y1="472.80" x2="287.15" y2="475.40" stroke="#222" stroke-width="0.9"/>
<text x="287.15" y="485.70" font-size="8.2" fill="#333" stroke="#333" stroke-width="0.2" text-anchor="middle">5</text>
<line x1="296.70" y1="472.80" x2="296.70" y2="475.40" stroke="#222" stroke-width="0.9"/>
<text x="296.70" y="485.70" font-size="8.2" fill="#333" stroke="#333" stroke-width="0.2" text-anchor="middle">6</text>
<line x1="236.20" y1="454.05" x2="239.20" y2="454.05" stroke="#222" stroke-width="1"/>
<text x="232.60" y="456.45" font-size="7.0" fill="#333" stroke="#333" stroke-width="0.2" text-anchor="end" textLength="15.6" lengthAdjust="spacingAndGlyphs">5000</text>
<line x1="236.20" y1="435.30" x2="239.20" y2="435.30" stroke="#222" stroke-width="1"/>
<text x="232.60" y="437.70" font-size="7.0" fill="#333" stroke="#333" stroke-width="0.2" text-anchor="end" textLength="19.5" lengthAdjust="spacingAndGlyphs">10000</text>
<line x1="236.20" y1="416.55" x2="239.20" y2="416.55" stroke="#222" stroke-width="1"/>
<text x="232.60" y="418.95" font-size="7.0" fill="#333" stroke="#333" stroke-width="0.2" text-anchor="end" textLength="19.5" lengthAdjust="spacingAndGlyphs">15000</text>
<line x1="236.20" y1="397.80" x2="239.20" y2="397.80" stroke="#222" stroke-width="1"/>
<text x="232.60" y="400.20" font-size="7.0" fill="#333" stroke="#333" stroke-width="0.2" text-anchor="end" textLength="19.5" lengthAdjust="spacingAndGlyphs">20000</text>
<text x="270.70" y="389.40" font-size="9.7" fill="#E9A441" stroke="#E9A441" stroke-width="0.2" text-anchor="middle" textLength="14" lengthAdjust="spacingAndGlyphs">LY7</text>
<path d="M334.40,472.80 L343.95,467.40 L353.50,461.93 L363.05,451.65 L372.60,438.15 L382.15,428.18 L391.70,401.93" stroke="#3BAA3F" stroke-width="1.1" fill="none"/>
<line x1="391.70" y1="398.93" x2="391.70" y2="404.93" stroke="#3BAA3F" stroke-width="0.8"/>
<line x1="390.50" y1="398.93" x2="392.90" y2="398.93" stroke="#3BAA3F" stroke-width="0.8"/>
<line x1="390.50" y1="404.93" x2="392.90" y2="404.93" stroke="#3BAA3F" stroke-width="0.8"/>
<circle cx="334.40" cy="472.80" r="2.2" fill="#3BAA3F"/>
<circle cx="343.95" cy="467.40" r="2.2" fill="#3BAA3F"/>
<circle cx="353.50" cy="461.93" r="2.2" fill="#3BAA3F"/>
<circle cx="363.05" cy="451.65" r="2.2" fill="#3BAA3F"/>
<circle cx="372.60" cy="438.15" r="2.2" fill="#3BAA3F"/>
<circle cx="382.15" cy="428.18" r="2.2" fill="#3BAA3F"/>
<circle cx="391.70" cy="401.93" r="2.2" fill="#3BAA3F"/>
<path d="M334.40,472.80 L343.95,471.90 L353.50,470.66 L363.05,469.16 L372.60,467.40 L382.15,462.90 L391.70,453.68" stroke="#BF1E2E" stroke-width="1.1" fill="none"/>
<line x1="391.70" y1="450.30" x2="391.70" y2="457.05" stroke="#BF1E2E" stroke-width="0.8"/>
<line x1="390.50" y1="450.30" x2="392.90" y2="450.30" stroke="#BF1E2E" stroke-width="0.8"/>
<line x1="390.50" y1="457.05" x2="392.90" y2="457.05" stroke="#BF1E2E" stroke-width="0.8"/>
<circle cx="334.40" cy="472.80" r="2.2" fill="#BF1E2E"/>
<circle cx="343.95" cy="471.90" r="2.2" fill="#BF1E2E"/>
<circle cx="353.50" cy="470.66" r="2.2" fill="#BF1E2E"/>
<circle cx="363.05" cy="469.16" r="2.2" fill="#BF1E2E"/>
<circle cx="372.60" cy="467.40" r="2.2" fill="#BF1E2E"/>
<circle cx="382.15" cy="462.90" r="2.2" fill="#BF1E2E"/>
<circle cx="391.70" cy="453.68" r="2.2" fill="#BF1E2E"/>
<line x1="334.20" y1="395.50" x2="334.20" y2="473.30" stroke="#222" stroke-width="1.1"/>
<line x1="333.70" y1="472.80" x2="396.70" y2="472.80" stroke="#222" stroke-width="1.1"/>
<line x1="334.40" y1="472.80" x2="334.40" y2="475.40" stroke="#222" stroke-width="0.9"/>
<text x="334.40" y="485.70" font-size="8.2" fill="#333" stroke="#333" stroke-width="0.2" text-anchor="middle">0</text>
<line x1="343.95" y1="472.80" x2="343.95" y2="475.40" stroke="#222" stroke-width="0.9"/>
<text x="343.95" y="485.70" font-size="8.2" fill="#333" stroke="#333" stroke-width="0.2" text-anchor="middle">1</text>
<line x1="353.50" y1="472.80" x2="353.50" y2="475.40" stroke="#222" stroke-width="0.9"/>
<text x="353.50" y="485.70" font-size="8.2" fill="#333" stroke="#333" stroke-width="0.2" text-anchor="middle">2</text>
<line x1="363.05" y1="472.80" x2="363.05" y2="475.40" stroke="#222" stroke-width="0.9"/>
<text x="363.05" y="485.70" font-size="8.2" fill="#333" stroke="#333" stroke-width="0.2" text-anchor="middle">3</text>
<line x1="372.60" y1="472.80" x2="372.60" y2="475.40" stroke="#222" stroke-width="0.9"/>
<text x="372.60" y="485.70" font-size="8.2" fill="#333" stroke="#333" stroke-width="0.2" text-anchor="middle">4</text>
<line x1="382.15" y1="472.80" x2="382.15" y2="475.40" stroke="#222" stroke-width="0.9"/>
<text x="382.15" y="485.70" font-size="8.2" fill="#333" stroke="#333" stroke-width="0.2" text-anchor="middle">5</text>
<line x1="391.70" y1="472.80" x2="391.70" y2="475.40" stroke="#222" stroke-width="0.9"/>
<text x="391.70" y="485.70" font-size="8.2" fill="#333" stroke="#333" stroke-width="0.2" text-anchor="middle">6</text>
<line x1="331.20" y1="454.05" x2="334.20" y2="454.05" stroke="#222" stroke-width="1"/>
<text x="327.60" y="456.45" font-size="7.0" fill="#333" stroke="#333" stroke-width="0.2" text-anchor="end" textLength="15.6" lengthAdjust="spacingAndGlyphs">5000</text>
<line x1="331.20" y1="435.30" x2="334.20" y2="435.30" stroke="#222" stroke-width="1"/>
<text x="327.60" y="437.70" font-size="7.0" fill="#333" stroke="#333" stroke-width="0.2" text-anchor="end" textLength="19.5" lengthAdjust="spacingAndGlyphs">10000</text>
<line x1="331.20" y1="416.55" x2="334.20" y2="416.55" stroke="#222" stroke-width="1"/>
<text x="327.60" y="418.95" font-size="7.0" fill="#333" stroke="#333" stroke-width="0.2" text-anchor="end" textLength="19.5" lengthAdjust="spacingAndGlyphs">15000</text>
<line x1="331.20" y1="397.80" x2="334.20" y2="397.80" stroke="#222" stroke-width="1"/>
<text x="327.60" y="400.20" font-size="7.0" fill="#333" stroke="#333" stroke-width="0.2" text-anchor="end" textLength="19.5" lengthAdjust="spacingAndGlyphs">20000</text>
<text x="365.70" y="389.40" font-size="9.7" fill="#626870" stroke="#626870" stroke-width="0.2" text-anchor="middle" textLength="25" lengthAdjust="spacingAndGlyphs">TMD8</text>
<path d="M436.50,472.60 L446.20,468.85 L455.90,466.84 L465.60,464.33 L475.30,453.05 L485.00,442.50 L494.70,412.39" stroke="#3BAA3F" stroke-width="1.1" fill="none"/>
<line x1="494.70" y1="408.12" x2="494.70" y2="416.66" stroke="#3BAA3F" stroke-width="0.8"/>
<line x1="493.50" y1="408.12" x2="495.90" y2="408.12" stroke="#3BAA3F" stroke-width="0.8"/>
<line x1="493.50" y1="416.66" x2="495.90" y2="416.66" stroke="#3BAA3F" stroke-width="0.8"/>
<line x1="485.00" y1="440.97" x2="485.00" y2="444.02" stroke="#3BAA3F" stroke-width="0.8"/>
<line x1="483.80" y1="440.97" x2="486.20" y2="440.97" stroke="#3BAA3F" stroke-width="0.8"/>
<line x1="483.80" y1="444.02" x2="486.20" y2="444.02" stroke="#3BAA3F" stroke-width="0.8"/>
<circle cx="436.50" cy="472.60" r="2.2" fill="#3BAA3F"/>
<circle cx="446.20" cy="468.85" r="2.2" fill="#3BAA3F"/>
<circle cx="455.90" cy="466.84" r="2.2" fill="#3BAA3F"/>
<circle cx="465.60" cy="464.33" r="2.2" fill="#3BAA3F"/>
<circle cx="475.30" cy="453.05" r="2.2" fill="#3BAA3F"/>
<circle cx="485.00" cy="442.50" r="2.2" fill="#3BAA3F"/>
<circle cx="494.70" cy="412.39" r="2.2" fill="#3BAA3F"/>
<path d="M436.50,472.60 L446.20,470.85 L455.90,469.58 L465.60,468.33 L475.30,465.33 L485.00,458.81 L494.70,444.51" stroke="#BF1E2E" stroke-width="1.1" fill="none"/>
<line x1="494.70" y1="443.59" x2="494.70" y2="445.42" stroke="#BF1E2E" stroke-width="0.8"/>
<line x1="493.50" y1="443.59" x2="495.90" y2="443.59" stroke="#BF1E2E" stroke-width="0.8"/>
<line x1="493.50" y1="445.42" x2="495.90" y2="445.42" stroke="#BF1E2E" stroke-width="0.8"/>
<circle cx="436.50" cy="472.60" r="2.2" fill="#BF1E2E"/>
<circle cx="446.20" cy="470.85" r="2.2" fill="#BF1E2E"/>
<circle cx="455.90" cy="469.58" r="2.2" fill="#BF1E2E"/>
<circle cx="465.60" cy="468.33" r="2.2" fill="#BF1E2E"/>
<circle cx="475.30" cy="465.33" r="2.2" fill="#BF1E2E"/>
<circle cx="485.00" cy="458.81" r="2.2" fill="#BF1E2E"/>
<circle cx="494.70" cy="444.51" r="2.2" fill="#BF1E2E"/>
<line x1="436.30" y1="394.00" x2="436.30" y2="473.10" stroke="#222" stroke-width="1.1"/>
<line x1="435.80" y1="472.60" x2="499.50" y2="472.60" stroke="#222" stroke-width="1.1"/>
<line x1="436.50" y1="472.60" x2="436.50" y2="475.20" stroke="#222" stroke-width="0.9"/>
<text x="436.50" y="485.50" font-size="8.2" fill="#333" stroke="#333" stroke-width="0.2" text-anchor="middle">0</text>
<line x1="446.20" y1="472.60" x2="446.20" y2="475.20" stroke="#222" stroke-width="0.9"/>
<text x="446.20" y="485.50" font-size="8.2" fill="#333" stroke="#333" stroke-width="0.2" text-anchor="middle">1</text>
<line x1="455.90" y1="472.60" x2="455.90" y2="475.20" stroke="#222" stroke-width="0.9"/>
<text x="455.90" y="485.50" font-size="8.2" fill="#333" stroke="#333" stroke-width="0.2" text-anchor="middle">2</text>
<line x1="465.60" y1="472.60" x2="465.60" y2="475.20" stroke="#222" stroke-width="0.9"/>
<text x="465.60" y="485.50" font-size="8.2" fill="#333" stroke="#333" stroke-width="0.2" text-anchor="middle">3</text>
<line x1="475.30" y1="472.60" x2="475.30" y2="475.20" stroke="#222" stroke-width="0.9"/>
<text x="475.30" y="485.50" font-size="8.2" fill="#333" stroke="#333" stroke-width="0.2" text-anchor="middle">4</text>
<line x1="485.00" y1="472.60" x2="485.00" y2="475.20" stroke="#222" stroke-width="0.9"/>
<text x="485.00" y="485.50" font-size="8.2" fill="#333" stroke="#333" stroke-width="0.2" text-anchor="middle">5</text>
<line x1="494.70" y1="472.60" x2="494.70" y2="475.20" stroke="#222" stroke-width="0.9"/>
<text x="494.70" y="485.50" font-size="8.2" fill="#333" stroke="#333" stroke-width="0.2" text-anchor="middle">6</text>
<line x1="433.30" y1="457.35" x2="436.30" y2="457.35" stroke="#222" stroke-width="1"/>
<text x="429.70" y="459.75" font-size="7.0" fill="#333" stroke="#333" stroke-width="0.2" text-anchor="end" textLength="15.6" lengthAdjust="spacingAndGlyphs">5000</text>
<line x1="433.30" y1="442.10" x2="436.30" y2="442.10" stroke="#222" stroke-width="1"/>
<text x="429.70" y="444.50" font-size="7.0" fill="#333" stroke="#333" stroke-width="0.2" text-anchor="end" textLength="19.5" lengthAdjust="spacingAndGlyphs">10000</text>
<line x1="433.30" y1="426.85" x2="436.30" y2="426.85" stroke="#222" stroke-width="1"/>
<text x="429.70" y="429.25" font-size="7.0" fill="#333" stroke="#333" stroke-width="0.2" text-anchor="end" textLength="19.5" lengthAdjust="spacingAndGlyphs">15000</text>
<line x1="433.30" y1="411.60" x2="436.30" y2="411.60" stroke="#222" stroke-width="1"/>
<text x="429.70" y="414.00" font-size="7.0" fill="#333" stroke="#333" stroke-width="0.2" text-anchor="end" textLength="19.5" lengthAdjust="spacingAndGlyphs">20000</text>
<line x1="433.30" y1="396.35" x2="436.30" y2="396.35" stroke="#222" stroke-width="1"/>
<text x="429.70" y="398.75" font-size="7.0" fill="#333" stroke="#333" stroke-width="0.2" text-anchor="end" textLength="19.5" lengthAdjust="spacingAndGlyphs">25000</text>
<text x="467.80" y="389.40" font-size="9.7" fill="#626870" stroke="#626870" stroke-width="0.2" text-anchor="middle" textLength="22" lengthAdjust="spacingAndGlyphs">HBL1</text>
<circle cx="53.20" cy="400.60" r="1.9" fill="#3BAA3F"/>
<text x="57.80" y="402.60" font-size="6.6" fill="#333" stroke="#333" stroke-width="0.2" textLength="7.8" lengthAdjust="spacingAndGlyphs">EV</text>
<circle cx="53.20" cy="411.40" r="1.9" fill="#BF1E2E"/>
<text x="57.80" y="413.40" font-size="6.6" fill="#333" stroke="#333" stroke-width="0.2" textLength="29.2" lengthAdjust="spacingAndGlyphs">shDOCK8</text>
<text x="16.30" y="433.90" font-size="9.0" fill="#333" stroke="#333" stroke-width="0.2" text-anchor="middle" textLength="38.3" lengthAdjust="spacingAndGlyphs" transform="rotate(-90 16.30 433.90)">Absorbance</text>
<path d="M396.50,402.50 H398.10 V453.00 H396.50" stroke="#222" stroke-width="0.9" fill="none"/>
<circle cx="401.60" cy="422.59" r="0.95" fill="#1a1a1a"/>
<circle cx="401.60" cy="425.94" r="0.95" fill="#1a1a1a"/>
<circle cx="401.60" cy="429.29" r="0.95" fill="#1a1a1a"/>
<circle cx="401.60" cy="432.64" r="0.95" fill="#1a1a1a"/>
<path d="M498.60,412.50 H500.20 V444.30 H498.60" stroke="#222" stroke-width="0.9" fill="none"/>
<circle cx="504.50" cy="423.19" r="0.95" fill="#1a1a1a"/>
<circle cx="504.50" cy="426.54" r="0.95" fill="#1a1a1a"/>
<circle cx="504.50" cy="429.89" r="0.95" fill="#1a1a1a"/>
<circle cx="504.50" cy="433.24" r="0.95" fill="#1a1a1a"/>
<line x1="48.00" y1="494.30" x2="475.00" y2="494.30" stroke="#333" stroke-width="1.0"/>
<text x="478.70" y="496.90" font-size="9.0" stroke="#222" stroke-width="0.2" textLength="19.8" lengthAdjust="spacingAndGlyphs">Days</text>
<rect x="55.50" y="585.89" width="20.50" height="21.81" fill="#3BAA3A"/>
<line x1="65.75" y1="580.07" x2="65.75" y2="588.43" stroke="#1a1a1a" stroke-width="0.8"/>
<line x1="64.45" y1="580.07" x2="67.05" y2="580.07" stroke="#1a1a1a" stroke-width="0.8"/>
<line x1="64.45" y1="588.43" x2="67.05" y2="588.43" stroke="#1a1a1a" stroke-width="0.8"/>
<circle cx="65.75" cy="580.07" r="1.55" fill="#e6f2e4" stroke="#111" stroke-width="0.85"/>
<circle cx="62.45" cy="589.16" r="1.55" fill="#e6f2e4" stroke="#111" stroke-width="0.85"/>
<circle cx="69.05" cy="587.34" r="1.55" fill="#e6f2e4" stroke="#111" stroke-width="0.85"/>
<rect x="83.40" y="580.18" width="20.60" height="27.52" fill="#C8102E"/>
<circle cx="91.20" cy="579.35" r="1.55" fill="#5a0a18" stroke="#111" stroke-width="0.85"/>
<circle cx="94.20" cy="580.80" r="1.55" fill="#5a0a18" stroke="#111" stroke-width="0.85"/>
<circle cx="97.20" cy="580.07" r="1.55" fill="#5a0a18" stroke="#111" stroke-width="0.85"/>
<line x1="48.40" y1="532.00" x2="48.40" y2="608.20" stroke="#222" stroke-width="1.1"/>
<line x1="47.90" y1="607.70" x2="111.00" y2="607.70" stroke="#222" stroke-width="1.1"/>
<line x1="45.40" y1="589.53" x2="48.40" y2="589.53" stroke="#222" stroke-width="1"/>
<text x="41.80" y="591.93" font-size="7.0" fill="#333" stroke="#333" stroke-width="0.2" text-anchor="end" textLength="3.9" lengthAdjust="spacingAndGlyphs">5</text>
<line x1="45.40" y1="571.35" x2="48.40" y2="571.35" stroke="#222" stroke-width="1"/>
<text x="41.80" y="573.75" font-size="7.0" fill="#333" stroke="#333" stroke-width="0.2" text-anchor="end" textLength="7.8" lengthAdjust="spacingAndGlyphs">10</text>
<line x1="45.40" y1="553.17" x2="48.40" y2="553.17" stroke="#222" stroke-width="1"/>
<text x="41.80" y="555.57" font-size="7.0" fill="#333" stroke="#333" stroke-width="0.2" text-anchor="end" textLength="7.8" lengthAdjust="spacingAndGlyphs">15</text>
<line x1="45.40" y1="535.00" x2="48.40" y2="535.00" stroke="#222" stroke-width="1"/>
<text x="41.80" y="537.40" font-size="7.0" fill="#333" stroke="#333" stroke-width="0.2" text-anchor="end" textLength="7.8" lengthAdjust="spacingAndGlyphs">20</text>
<text x="79.90" y="526.70" font-size="9.5" fill="#E9A441" stroke="#E9A441" stroke-width="0.2" text-anchor="middle" textLength="23" lengthAdjust="spacingAndGlyphs">DHL4</text>
<rect x="150.80" y="580.44" width="21.00" height="27.26" fill="#3BAA3A"/>
<line x1="161.30" y1="575.35" x2="161.30" y2="583.35" stroke="#1a1a1a" stroke-width="0.8"/>
<line x1="160.00" y1="575.35" x2="162.60" y2="575.35" stroke="#1a1a1a" stroke-width="0.8"/>
<line x1="160.00" y1="583.35" x2="162.60" y2="583.35" stroke="#1a1a1a" stroke-width="0.8"/>
<circle cx="161.30" cy="575.35" r="1.55" fill="#e6f2e4" stroke="#111" stroke-width="0.85"/>
<circle cx="158.80" cy="582.98" r="1.55" fill="#e6f2e4" stroke="#111" stroke-width="0.85"/>
<circle cx="163.80" cy="582.62" r="1.55" fill="#e6f2e4" stroke="#111" stroke-width="0.85"/>
<rect x="178.80" y="574.08" width="20.70" height="33.62" fill="#C8102E"/>
<line x1="189.15" y1="570.62" x2="189.15" y2="578.26" stroke="#1a1a1a" stroke-width="0.8"/>
<line x1="187.85" y1="570.62" x2="190.45" y2="570.62" stroke="#1a1a1a" stroke-width="0.8"/>
<line x1="187.85" y1="578.26" x2="190.45" y2="578.26" stroke="#1a1a1a" stroke-width="0.8"/>
<circle cx="186.15" cy="570.62" r="1.55" fill="#5a0a18" stroke="#111" stroke-width="0.85"/>
<circle cx="191.15" cy="572.80" r="1.55" fill="#5a0a18" stroke="#111" stroke-width="0.85"/>
<circle cx="189.15" cy="578.26" r="1.55" fill="#5a0a18" stroke="#111" stroke-width="0.85"/>
<line x1="144.25" y1="532.00" x2="144.25" y2="608.20" stroke="#222" stroke-width="1.1"/>
<line x1="143.75" y1="607.70" x2="206.30" y2="607.70" stroke="#222" stroke-width="1.1"/>
<line x1="141.25" y1="589.53" x2="144.25" y2="589.53" stroke="#222" stroke-width="1"/>
<text x="137.65" y="591.93" font-size="7.0" fill="#333" stroke="#333" stroke-width="0.2" text-anchor="end" textLength="3.9" lengthAdjust="spacingAndGlyphs">5</text>
<line x1="141.25" y1="571.35" x2="144.25" y2="571.35" stroke="#222" stroke-width="1"/>
<text x="137.65" y="573.75" font-size="7.0" fill="#333" stroke="#333" stroke-width="0.2" text-anchor="end" textLength="7.8" lengthAdjust="spacingAndGlyphs">10</text>
<line x1="141.25" y1="553.17" x2="144.25" y2="553.17" stroke="#222" stroke-width="1"/>
<text x="137.65" y="555.57" font-size="7.0" fill="#333" stroke="#333" stroke-width="0.2" text-anchor="end" textLength="7.8" lengthAdjust="spacingAndGlyphs">15</text>
<line x1="141.25" y1="535.00" x2="144.25" y2="535.00" stroke="#222" stroke-width="1"/>
<text x="137.65" y="537.40" font-size="7.0" fill="#333" stroke="#333" stroke-width="0.2" text-anchor="end" textLength="7.8" lengthAdjust="spacingAndGlyphs">20</text>
<text x="175.75" y="526.70" font-size="9.5" fill="#E9A441" stroke="#E9A441" stroke-width="0.2" text-anchor="middle" textLength="13.5" lengthAdjust="spacingAndGlyphs">LY1</text>
<rect x="249.50" y="568.62" width="18.80" height="39.08" fill="#3BAA3A"/>
<circle cx="250.70" cy="569.17" r="1.55" fill="#e6f2e4" stroke="#111" stroke-width="0.85"/>
<circle cx="258.90" cy="566.62" r="1.55" fill="#e6f2e4" stroke="#111" stroke-width="0.85"/>
<circle cx="266.70" cy="567.35" r="1.55" fill="#e6f2e4" stroke="#111" stroke-width="0.85"/>
<rect x="275.00" y="555.36" width="18.80" height="52.34" fill="#C8102E"/>
<line x1="284.40" y1="550.27" x2="284.40" y2="557.90" stroke="#1a1a1a" stroke-width="0.8"/>
<line x1="283.10" y1="550.27" x2="285.70" y2="550.27" stroke="#1a1a1a" stroke-width="0.8"/>
<line x1="283.10" y1="557.90" x2="285.70" y2="557.90" stroke="#1a1a1a" stroke-width="0.8"/>
<circle cx="284.40" cy="550.27" r="1.55" fill="#5a0a18" stroke="#111" stroke-width="0.85"/>
<circle cx="284.40" cy="555.72" r="1.55" fill="#5a0a18" stroke="#111" stroke-width="0.85"/>
<circle cx="284.40" cy="557.90" r="1.55" fill="#5a0a18" stroke="#111" stroke-width="0.85"/>
<line x1="239.50" y1="532.00" x2="239.50" y2="608.20" stroke="#222" stroke-width="1.1"/>
<line x1="239.00" y1="607.70" x2="303.80" y2="607.70" stroke="#222" stroke-width="1.1"/>
<line x1="236.50" y1="589.53" x2="239.50" y2="589.53" stroke="#222" stroke-width="1"/>
<text x="232.90" y="591.93" font-size="7.0" fill="#333" stroke="#333" stroke-width="0.2" text-anchor="end" textLength="3.9" lengthAdjust="spacingAndGlyphs">5</text>
<line x1="236.50" y1="571.35" x2="239.50" y2="571.35" stroke="#222" stroke-width="1"/>
<text x="232.90" y="573.75" font-size="7.0" fill="#333" stroke="#333" stroke-width="0.2" text-anchor="end" textLength="7.8" lengthAdjust="spacingAndGlyphs">10</text>
<line x1="236.50" y1="553.17" x2="239.50" y2="553.17" stroke="#222" stroke-width="1"/>
<text x="232.90" y="555.57" font-size="7.0" fill="#333" stroke="#333" stroke-width="0.2" text-anchor="end" textLength="7.8" lengthAdjust="spacingAndGlyphs">15</text>
<line x1="236.50" y1="535.00" x2="239.50" y2="535.00" stroke="#222" stroke-width="1"/>
<text x="232.90" y="537.40" font-size="7.0" fill="#333" stroke="#333" stroke-width="0.2" text-anchor="end" textLength="7.8" lengthAdjust="spacingAndGlyphs">20</text>
<text x="271.00" y="526.70" font-size="9.5" fill="#E9A441" stroke="#E9A441" stroke-width="0.2" text-anchor="middle" textLength="13.8" lengthAdjust="spacingAndGlyphs">LY7</text>
<rect x="344.50" y="592.57" width="18.80" height="15.13" fill="#3BAA3A"/>
<circle cx="351.90" cy="590.75" r="1.55" fill="#e6f2e4" stroke="#111" stroke-width="0.85"/>
<circle cx="354.40" cy="592.21" r="1.55" fill="#e6f2e4" stroke="#111" stroke-width="0.85"/>
<circle cx="356.90" cy="591.84" r="1.55" fill="#e6f2e4" stroke="#111" stroke-width="0.85"/>
<rect x="370.00" y="559.95" width="18.80" height="47.75" fill="#C8102E"/>
<line x1="379.40" y1="549.56" x2="379.40" y2="567.24" stroke="#1a1a1a" stroke-width="0.8"/>
<line x1="378.10" y1="549.56" x2="380.70" y2="549.56" stroke="#1a1a1a" stroke-width="0.8"/>
<line x1="378.10" y1="567.24" x2="380.70" y2="567.24" stroke="#1a1a1a" stroke-width="0.8"/>
<circle cx="379.40" cy="549.56" r="1.55" fill="#5a0a18" stroke="#111" stroke-width="0.85"/>
<circle cx="379.40" cy="559.22" r="1.55" fill="#5a0a18" stroke="#111" stroke-width="0.85"/>
<circle cx="379.40" cy="567.24" r="1.55" fill="#5a0a18" stroke="#111" stroke-width="0.85"/>
<line x1="334.25" y1="532.00" x2="334.25" y2="608.20" stroke="#222" stroke-width="1.1"/>
<line x1="333.75" y1="607.70" x2="398.00" y2="607.70" stroke="#222" stroke-width="1.1"/>
<line x1="331.25" y1="589.48" x2="334.25" y2="589.48" stroke="#222" stroke-width="1"/>
<text x="327.65" y="591.88" font-size="7.0" fill="#333" stroke="#333" stroke-width="0.2" text-anchor="end" textLength="7.8" lengthAdjust="spacingAndGlyphs">10</text>
<line x1="331.25" y1="571.25" x2="334.25" y2="571.25" stroke="#222" stroke-width="1"/>
<text x="327.65" y="573.65" font-size="7.0" fill="#333" stroke="#333" stroke-width="0.2" text-anchor="end" textLength="7.8" lengthAdjust="spacingAndGlyphs">20</text>
<line x1="331.25" y1="553.02" x2="334.25" y2="553.02" stroke="#222" stroke-width="1"/>
<text x="327.65" y="555.42" font-size="7.0" fill="#333" stroke="#333" stroke-width="0.2" text-anchor="end" textLength="7.8" lengthAdjust="spacingAndGlyphs">30</text>
<line x1="331.25" y1="534.80" x2="334.25" y2="534.80" stroke="#222" stroke-width="1"/>
<text x="327.65" y="537.20" font-size="7.0" fill="#333" stroke="#333" stroke-width="0.2" text-anchor="end" textLength="7.8" lengthAdjust="spacingAndGlyphs">40</text>
<text x="365.75" y="526.70" font-size="9.5" fill="#626870" stroke="#626870" stroke-width="0.2" text-anchor="middle" textLength="26" lengthAdjust="spacingAndGlyphs">TMD8</text>
<rect x="447.00" y="589.16" width="18.50" height="18.54" fill="#3BAA3A"/>
<circle cx="453.25" cy="586.25" r="1.55" fill="#e6f2e4" stroke="#111" stroke-width="0.85"/>
<circle cx="456.25" cy="588.80" r="1.55" fill="#e6f2e4" stroke="#111" stroke-width="0.85"/>
<circle cx="459.75" cy="588.43" r="1.55" fill="#e6f2e4" stroke="#111" stroke-width="0.85"/>
<rect x="472.50" y="549.54" width="18.30" height="58.16" fill="#C8102E"/>
<circle cx="481.65" cy="545.18" r="1.55" fill="#5a0a18" stroke="#111" stroke-width="0.85"/>
<circle cx="478.15" cy="549.54" r="1.55" fill="#5a0a18" stroke="#111" stroke-width="0.85"/>
<circle cx="485.15" cy="549.54" r="1.55" fill="#5a0a18" stroke="#111" stroke-width="0.85"/>
<line x1="436.25" y1="532.00" x2="436.25" y2="608.20" stroke="#222" stroke-width="1.1"/>
<line x1="435.75" y1="607.70" x2="501.30" y2="607.70" stroke="#222" stroke-width="1.1"/>
<line x1="433.25" y1="589.53" x2="436.25" y2="589.53" stroke="#222" stroke-width="1"/>
<text x="429.65" y="591.93" font-size="7.0" fill="#333" stroke="#333" stroke-width="0.2" text-anchor="end" textLength="3.9" lengthAdjust="spacingAndGlyphs">5</text>
<line x1="433.25" y1="571.35" x2="436.25" y2="571.35" stroke="#222" stroke-width="1"/>
<text x="429.65" y="573.75" font-size="7.0" fill="#333" stroke="#333" stroke-width="0.2" text-anchor="end" textLength="7.8" lengthAdjust="spacingAndGlyphs">10</text>
<line x1="433.25" y1="553.17" x2="436.25" y2="553.17" stroke="#222" stroke-width="1"/>
<text x="429.65" y="555.57" font-size="7.0" fill="#333" stroke="#333" stroke-width="0.2" text-anchor="end" textLength="7.8" lengthAdjust="spacingAndGlyphs">15</text>
<line x1="433.25" y1="535.00" x2="436.25" y2="535.00" stroke="#222" stroke-width="1"/>
<text x="429.65" y="537.40" font-size="7.0" fill="#333" stroke="#333" stroke-width="0.2" text-anchor="end" textLength="7.8" lengthAdjust="spacingAndGlyphs">20</text>
<text x="467.75" y="526.70" font-size="9.5" fill="#626870" stroke="#626870" stroke-width="0.2" text-anchor="middle" textLength="21.5" lengthAdjust="spacingAndGlyphs">HBL1</text>
<rect x="52.40" y="541.80" width="3.30" height="2.90" fill="#3BAA3A"/>
<text x="59.50" y="545.20" font-size="6.2" fill="#333" stroke="#333" stroke-width="0.2" textLength="6.8" lengthAdjust="spacingAndGlyphs">EV</text>
<rect x="52.40" y="552.10" width="3.30" height="2.90" fill="#C8102E"/>
<text x="59.50" y="555.40" font-size="6.2" fill="#333" stroke="#333" stroke-width="0.2" textLength="28.3" lengthAdjust="spacingAndGlyphs">shDOCK8</text>
<text x="28.10" y="566.60" font-size="8.8" fill="#333" stroke="#333" stroke-width="0.2" text-anchor="middle" textLength="82.4" lengthAdjust="spacingAndGlyphs" transform="rotate(-90 28.10 566.60)">% of apoptotic cells (96h)</text>
<path d="M352.50,542.30 V541.30 H379.50 V542.30" stroke="#222" stroke-width="0.9" fill="none"/>
<circle cx="366.20" cy="537.80" r="1.1" fill="#1a1a1a"/>
<path d="M455.00,542.30 V541.30 H481.80 V542.30" stroke="#222" stroke-width="0.9" fill="none"/>
<circle cx="463.25" cy="537.80" r="0.9" fill="#1a1a1a"/>
<circle cx="466.55" cy="537.80" r="0.9" fill="#1a1a1a"/>
<circle cx="469.85" cy="537.80" r="0.9" fill="#1a1a1a"/>
<circle cx="473.15" cy="537.80" r="0.9" fill="#1a1a1a"/>
<path d="M48.80,732.50 L62.42,727.97 L76.04,720.73 L89.66,708.70 L103.28,694.41 L116.90,682.89 L130.52,655.32" stroke="#D0DACB" stroke-width="0.9" fill="none"/>
<line x1="130.52" y1="651.97" x2="130.52" y2="658.67" stroke="#D0DACB" stroke-width="0.8"/>
<line x1="129.32" y1="651.97" x2="131.72" y2="651.97" stroke="#D0DACB" stroke-width="0.8"/>
<line x1="129.32" y1="658.67" x2="131.72" y2="658.67" stroke="#D0DACB" stroke-width="0.8"/>
<line x1="116.90" y1="681.63" x2="116.90" y2="684.15" stroke="#D0DACB" stroke-width="0.8"/>
<line x1="115.70" y1="681.63" x2="118.10" y2="681.63" stroke="#D0DACB" stroke-width="0.8"/>
<line x1="115.70" y1="684.15" x2="118.10" y2="684.15" stroke="#D0DACB" stroke-width="0.8"/>
<rect x="47.60" y="731.30" width="2.40" height="2.40" fill="#D0DACB"/>
<rect x="61.22" y="726.77" width="2.40" height="2.40" fill="#D0DACB"/>
<rect x="74.84" y="719.53" width="2.40" height="2.40" fill="#D0DACB"/>
<rect x="88.46" y="707.50" width="2.40" height="2.40" fill="#D0DACB"/>
<rect x="102.08" y="693.21" width="2.40" height="2.40" fill="#D0DACB"/>
<rect x="115.70" y="681.69" width="2.40" height="2.40" fill="#D0DACB"/>
<rect x="129.32" y="654.12" width="2.40" height="2.40" fill="#D0DACB"/>
<path d="M48.80,732.50 L62.42,732.08 L76.04,730.40 L89.66,728.10 L103.28,726.51 L116.90,721.02 L130.52,711.97" stroke="#F3B7A3" stroke-width="0.9" fill="none"/>
<line x1="130.52" y1="709.04" x2="130.52" y2="714.90" stroke="#F3B7A3" stroke-width="0.8"/>
<line x1="129.32" y1="709.04" x2="131.72" y2="709.04" stroke="#F3B7A3" stroke-width="0.8"/>
<line x1="129.32" y1="714.90" x2="131.72" y2="714.90" stroke="#F3B7A3" stroke-width="0.8"/>
<rect x="47.60" y="731.30" width="2.40" height="2.40" fill="#F3B7A3"/>
<rect x="61.22" y="730.88" width="2.40" height="2.40" fill="#F3B7A3"/>
<rect x="74.84" y="729.20" width="2.40" height="2.40" fill="#F3B7A3"/>
<rect x="88.46" y="726.90" width="2.40" height="2.40" fill="#F3B7A3"/>
<rect x="102.08" y="725.31" width="2.40" height="2.40" fill="#F3B7A3"/>
<rect x="115.70" y="719.82" width="2.40" height="2.40" fill="#F3B7A3"/>
<rect x="129.32" y="710.77" width="2.40" height="2.40" fill="#F3B7A3"/>
<path d="M48.80,732.50 L62.42,732.08 L76.04,729.23 L89.66,726.22 L103.28,719.47 L116.90,714.48 L130.52,699.19" stroke="#86BE7E" stroke-width="0.9" fill="none"/>
<line x1="130.52" y1="697.93" x2="130.52" y2="700.45" stroke="#86BE7E" stroke-width="0.8"/>
<line x1="129.32" y1="697.93" x2="131.72" y2="697.93" stroke="#86BE7E" stroke-width="0.8"/>
<line x1="129.32" y1="700.45" x2="131.72" y2="700.45" stroke="#86BE7E" stroke-width="0.8"/>
<rect x="47.60" y="731.30" width="2.40" height="2.40" fill="#86BE7E"/>
<rect x="61.22" y="730.88" width="2.40" height="2.40" fill="#86BE7E"/>
<rect x="74.84" y="728.03" width="2.40" height="2.40" fill="#86BE7E"/>
<rect x="88.46" y="725.01" width="2.40" height="2.40" fill="#86BE7E"/>
<rect x="102.08" y="718.27" width="2.40" height="2.40" fill="#86BE7E"/>
<rect x="115.70" y="713.28" width="2.40" height="2.40" fill="#86BE7E"/>
<rect x="129.32" y="697.99" width="2.40" height="2.40" fill="#86BE7E"/>
<path d="M48.80,732.50 L62.42,732.50 L76.04,732.29 L89.66,732.08 L103.28,731.66 L116.90,729.99 L130.52,725.59" stroke="#E5705C" stroke-width="0.9" fill="none"/>
<rect x="47.60" y="731.30" width="2.40" height="2.40" fill="#E5705C"/>
<rect x="61.22" y="731.30" width="2.40" height="2.40" fill="#E5705C"/>
<rect x="74.84" y="731.09" width="2.40" height="2.40" fill="#E5705C"/>
<rect x="88.46" y="730.88" width="2.40" height="2.40" fill="#E5705C"/>
<rect x="102.08" y="730.46" width="2.40" height="2.40" fill="#E5705C"/>
<rect x="115.70" y="728.79" width="2.40" height="2.40" fill="#E5705C"/>
<rect x="129.32" y="724.39" width="2.40" height="2.40" fill="#E5705C"/>
<path d="M48.80,732.50 L62.42,732.50 L76.04,732.50 L89.66,732.50 L103.28,732.50 L116.90,732.29 L130.52,731.75" stroke="#BC1530" stroke-width="0.9" fill="none"/>
<rect x="47.60" y="731.30" width="2.40" height="2.40" fill="#BC1530"/>
<rect x="61.22" y="731.30" width="2.40" height="2.40" fill="#BC1530"/>
<rect x="74.84" y="731.30" width="2.40" height="2.40" fill="#BC1530"/>
<rect x="88.46" y="731.30" width="2.40" height="2.40" fill="#BC1530"/>
<rect x="102.08" y="731.30" width="2.40" height="2.40" fill="#BC1530"/>
<rect x="115.70" y="731.09" width="2.40" height="2.40" fill="#BC1530"/>
<rect x="129.32" y="730.55" width="2.40" height="2.40" fill="#BC1530"/>
<path d="M48.80,732.50 L62.42,732.50 L76.04,732.29 L89.66,732.08 L103.28,731.66 L116.90,730.82 L130.52,728.73" stroke="#3AA838" stroke-width="0.9" fill="none"/>
<rect x="47.60" y="731.30" width="2.40" height="2.40" fill="#3AA838"/>
<rect x="61.22" y="731.30" width="2.40" height="2.40" fill="#3AA838"/>
<rect x="74.84" y="731.09" width="2.40" height="2.40" fill="#3AA838"/>
<rect x="88.46" y="730.88" width="2.40" height="2.40" fill="#3AA838"/>
<rect x="102.08" y="730.46" width="2.40" height="2.40" fill="#3AA838"/>
<rect x="115.70" y="729.62" width="2.40" height="2.40" fill="#3AA838"/>
<rect x="129.32" y="727.53" width="2.40" height="2.40" fill="#3AA838"/>
<line x1="48.50" y1="645.80" x2="48.50" y2="733.00" stroke="#222" stroke-width="1.1"/>
<line x1="48.00" y1="732.50" x2="137.30" y2="732.50" stroke="#222" stroke-width="1.1"/>
<line x1="48.80" y1="732.50" x2="48.80" y2="735.10" stroke="#222" stroke-width="0.9"/>
<text x="48.80" y="746.10" font-size="8.0" fill="#333" stroke="#333" stroke-width="0.2" text-anchor="middle">0</text>
<line x1="62.42" y1="732.50" x2="62.42" y2="735.10" stroke="#222" stroke-width="0.9"/>
<text x="62.42" y="746.10" font-size="8.0" fill="#333" stroke="#333" stroke-width="0.2" text-anchor="middle">1</text>
<line x1="76.04" y1="732.50" x2="76.04" y2="735.10" stroke="#222" stroke-width="0.9"/>
<text x="76.04" y="746.10" font-size="8.0" fill="#333" stroke="#333" stroke-width="0.2" text-anchor="middle">2</text>
<line x1="89.66" y1="732.50" x2="89.66" y2="735.10" stroke="#222" stroke-width="0.9"/>
<text x="89.66" y="746.10" font-size="8.0" fill="#333" stroke="#333" stroke-width="0.2" text-anchor="middle">3</text>
<line x1="103.28" y1="732.50" x2="103.28" y2="735.10" stroke="#222" stroke-width="0.9"/>
<text x="103.28" y="746.10" font-size="8.0" fill="#333" stroke="#333" stroke-width="0.2" text-anchor="middle">4</text>
<line x1="116.90" y1="732.50" x2="116.90" y2="735.10" stroke="#222" stroke-width="0.9"/>
<text x="116.90" y="746.10" font-size="8.0" fill="#333" stroke="#333" stroke-width="0.2" text-anchor="middle">5</text>
<line x1="130.52" y1="732.50" x2="130.52" y2="735.10" stroke="#222" stroke-width="0.9"/>
<text x="130.52" y="746.10" font-size="8.0" fill="#333" stroke="#333" stroke-width="0.2" text-anchor="middle">6</text>
<line x1="45.50" y1="711.55" x2="48.50" y2="711.55" stroke="#222" stroke-width="1"/>
<text x="41.90" y="713.95" font-size="7.0" fill="#333" stroke="#333" stroke-width="0.2" text-anchor="end" textLength="15.6" lengthAdjust="spacingAndGlyphs">5000</text>
<line x1="45.50" y1="690.60" x2="48.50" y2="690.60" stroke="#222" stroke-width="1"/>
<text x="41.90" y="693.00" font-size="7.0" fill="#333" stroke="#333" stroke-width="0.2" text-anchor="end" textLength="19.5" lengthAdjust="spacingAndGlyphs">10000</text>
<line x1="45.50" y1="669.65" x2="48.50" y2="669.65" stroke="#222" stroke-width="1"/>
<text x="41.90" y="672.05" font-size="7.0" fill="#333" stroke="#333" stroke-width="0.2" text-anchor="end" textLength="19.5" lengthAdjust="spacingAndGlyphs">15000</text>
<line x1="45.50" y1="648.70" x2="48.50" y2="648.70" stroke="#222" stroke-width="1"/>
<text x="41.90" y="651.10" font-size="7.0" fill="#333" stroke="#333" stroke-width="0.2" text-anchor="end" textLength="19.5" lengthAdjust="spacingAndGlyphs">20000</text>
<text x="93.40" y="639.30" font-size="9.7" fill="#626870" stroke="#626870" stroke-width="0.2" text-anchor="middle" textLength="26" lengthAdjust="spacingAndGlyphs">TMD8</text>
<path d="M186.50,732.00 L200.13,728.90 L213.76,726.30 L227.39,723.60 L241.02,711.91 L254.65,700.29 L268.28,666.50" stroke="#D0DACB" stroke-width="0.9" fill="none"/>
<line x1="268.28" y1="661.52" x2="268.28" y2="671.48" stroke="#D0DACB" stroke-width="0.8"/>
<line x1="267.08" y1="661.52" x2="269.48" y2="661.52" stroke="#D0DACB" stroke-width="0.8"/>
<line x1="267.08" y1="671.48" x2="269.48" y2="671.48" stroke="#D0DACB" stroke-width="0.8"/>
<line x1="254.65" y1="698.63" x2="254.65" y2="701.95" stroke="#D0DACB" stroke-width="0.8"/>
<line x1="253.45" y1="698.63" x2="255.85" y2="698.63" stroke="#D0DACB" stroke-width="0.8"/>
<line x1="253.45" y1="701.95" x2="255.85" y2="701.95" stroke="#D0DACB" stroke-width="0.8"/>
<rect x="185.30" y="730.80" width="2.40" height="2.40" fill="#D0DACB"/>
<rect x="198.93" y="727.70" width="2.40" height="2.40" fill="#D0DACB"/>
<rect x="212.56" y="725.10" width="2.40" height="2.40" fill="#D0DACB"/>
<rect x="226.19" y="722.40" width="2.40" height="2.40" fill="#D0DACB"/>
<rect x="239.82" y="710.71" width="2.40" height="2.40" fill="#D0DACB"/>
<rect x="253.45" y="699.09" width="2.40" height="2.40" fill="#D0DACB"/>
<rect x="267.08" y="665.30" width="2.40" height="2.40" fill="#D0DACB"/>
<path d="M186.50,732.00 L200.13,730.34 L213.76,729.01 L227.39,727.02 L241.02,723.20 L254.65,714.11 L268.28,701.29" stroke="#F3B7A3" stroke-width="0.9" fill="none"/>
<line x1="268.28" y1="699.63" x2="268.28" y2="702.95" stroke="#F3B7A3" stroke-width="0.8"/>
<line x1="267.08" y1="699.63" x2="269.48" y2="699.63" stroke="#F3B7A3" stroke-width="0.8"/>
<line x1="267.08" y1="702.95" x2="269.48" y2="702.95" stroke="#F3B7A3" stroke-width="0.8"/>
<rect x="185.30" y="730.80" width="2.40" height="2.40" fill="#F3B7A3"/>
<rect x="198.93" y="729.14" width="2.40" height="2.40" fill="#F3B7A3"/>
<rect x="212.56" y="727.81" width="2.40" height="2.40" fill="#F3B7A3"/>
<rect x="226.19" y="725.82" width="2.40" height="2.40" fill="#F3B7A3"/>
<rect x="239.82" y="722.00" width="2.40" height="2.40" fill="#F3B7A3"/>
<rect x="253.45" y="712.91" width="2.40" height="2.40" fill="#F3B7A3"/>
<rect x="267.08" y="700.09" width="2.40" height="2.40" fill="#F3B7A3"/>
<path d="M186.50,732.00 L200.13,729.68 L213.76,727.68 L227.39,725.29 L241.02,721.51 L254.65,710.92 L268.28,692.89" stroke="#86BE7E" stroke-width="0.9" fill="none"/>
<line x1="268.28" y1="690.23" x2="268.28" y2="695.55" stroke="#86BE7E" stroke-width="0.8"/>
<line x1="267.08" y1="690.23" x2="269.48" y2="690.23" stroke="#86BE7E" stroke-width="0.8"/>
<line x1="267.08" y1="695.55" x2="269.48" y2="695.55" stroke="#86BE7E" stroke-width="0.8"/>
<line x1="254.65" y1="708.59" x2="254.65" y2="713.24" stroke="#86BE7E" stroke-width="0.8"/>
<line x1="253.45" y1="708.59" x2="255.85" y2="708.59" stroke="#86BE7E" stroke-width="0.8"/>
<line x1="253.45" y1="713.24" x2="255.85" y2="713.24" stroke="#86BE7E" stroke-width="0.8"/>
<rect x="185.30" y="730.80" width="2.40" height="2.40" fill="#86BE7E"/>
<rect x="198.93" y="728.48" width="2.40" height="2.40" fill="#86BE7E"/>
<rect x="212.56" y="726.48" width="2.40" height="2.40" fill="#86BE7E"/>
<rect x="226.19" y="724.09" width="2.40" height="2.40" fill="#86BE7E"/>
<rect x="239.82" y="720.31" width="2.40" height="2.40" fill="#86BE7E"/>
<rect x="253.45" y="709.72" width="2.40" height="2.40" fill="#86BE7E"/>
<rect x="267.08" y="691.69" width="2.40" height="2.40" fill="#86BE7E"/>
<path d="M186.50,732.00 L200.13,731.67 L213.76,731.34 L227.39,730.84 L241.02,729.91 L254.65,724.00 L268.28,716.60" stroke="#E5705C" stroke-width="0.9" fill="none"/>
<rect x="185.30" y="730.80" width="2.40" height="2.40" fill="#E5705C"/>
<rect x="198.93" y="730.47" width="2.40" height="2.40" fill="#E5705C"/>
<rect x="212.56" y="730.14" width="2.40" height="2.40" fill="#E5705C"/>
<rect x="226.19" y="729.64" width="2.40" height="2.40" fill="#E5705C"/>
<rect x="239.82" y="728.71" width="2.40" height="2.40" fill="#E5705C"/>
<rect x="253.45" y="722.80" width="2.40" height="2.40" fill="#E5705C"/>
<rect x="267.08" y="715.40" width="2.40" height="2.40" fill="#E5705C"/>
<path d="M186.50,732.00 L200.13,732.00 L213.76,731.83 L227.39,731.67 L241.02,731.34 L254.65,729.31 L268.28,727.42" stroke="#BC1530" stroke-width="0.9" fill="none"/>
<rect x="185.30" y="730.80" width="2.40" height="2.40" fill="#BC1530"/>
<rect x="198.93" y="730.80" width="2.40" height="2.40" fill="#BC1530"/>
<rect x="212.56" y="730.63" width="2.40" height="2.40" fill="#BC1530"/>
<rect x="226.19" y="730.47" width="2.40" height="2.40" fill="#BC1530"/>
<rect x="239.82" y="730.14" width="2.40" height="2.40" fill="#BC1530"/>
<rect x="253.45" y="728.11" width="2.40" height="2.40" fill="#BC1530"/>
<rect x="267.08" y="726.22" width="2.40" height="2.40" fill="#BC1530"/>
<path d="M186.50,732.00 L200.13,730.34 L213.76,729.01 L227.39,726.69 L241.02,723.20 L254.65,719.28 L268.28,706.60" stroke="#3AA838" stroke-width="0.9" fill="none"/>
<rect x="185.30" y="730.80" width="2.40" height="2.40" fill="#3AA838"/>
<rect x="198.93" y="729.14" width="2.40" height="2.40" fill="#3AA838"/>
<rect x="212.56" y="727.81" width="2.40" height="2.40" fill="#3AA838"/>
<rect x="226.19" y="725.49" width="2.40" height="2.40" fill="#3AA838"/>
<rect x="239.82" y="722.00" width="2.40" height="2.40" fill="#3AA838"/>
<rect x="253.45" y="718.08" width="2.40" height="2.40" fill="#3AA838"/>
<rect x="267.08" y="705.40" width="2.40" height="2.40" fill="#3AA838"/>
<line x1="186.20" y1="645.80" x2="186.20" y2="732.50" stroke="#222" stroke-width="1.1"/>
<line x1="185.70" y1="732.00" x2="274.00" y2="732.00" stroke="#222" stroke-width="1.1"/>
<line x1="186.50" y1="732.00" x2="186.50" y2="734.60" stroke="#222" stroke-width="0.9"/>
<text x="186.50" y="745.60" font-size="8.0" fill="#333" stroke="#333" stroke-width="0.2" text-anchor="middle">0</text>
<line x1="200.13" y1="732.00" x2="200.13" y2="734.60" stroke="#222" stroke-width="0.9"/>
<text x="200.13" y="745.60" font-size="8.0" fill="#333" stroke="#333" stroke-width="0.2" text-anchor="middle">1</text>
<line x1="213.76" y1="732.00" x2="213.76" y2="734.60" stroke="#222" stroke-width="0.9"/>
<text x="213.76" y="745.60" font-size="8.0" fill="#333" stroke="#333" stroke-width="0.2" text-anchor="middle">2</text>
<line x1="227.39" y1="732.00" x2="227.39" y2="734.60" stroke="#222" stroke-width="0.9"/>
<text x="227.39" y="745.60" font-size="8.0" fill="#333" stroke="#333" stroke-width="0.2" text-anchor="middle">3</text>
<line x1="241.02" y1="732.00" x2="241.02" y2="734.60" stroke="#222" stroke-width="0.9"/>
<text x="241.02" y="745.60" font-size="8.0" fill="#333" stroke="#333" stroke-width="0.2" text-anchor="middle">4</text>
<line x1="254.65" y1="732.00" x2="254.65" y2="734.60" stroke="#222" stroke-width="0.9"/>
<text x="254.65" y="745.60" font-size="8.0" fill="#333" stroke="#333" stroke-width="0.2" text-anchor="middle">5</text>
<line x1="268.28" y1="732.00" x2="268.28" y2="734.60" stroke="#222" stroke-width="0.9"/>
<text x="268.28" y="745.60" font-size="8.0" fill="#333" stroke="#333" stroke-width="0.2" text-anchor="middle">6</text>
<line x1="183.20" y1="715.40" x2="186.20" y2="715.40" stroke="#222" stroke-width="1"/>
<text x="179.60" y="717.80" font-size="7.0" fill="#333" stroke="#333" stroke-width="0.2" text-anchor="end" textLength="15.6" lengthAdjust="spacingAndGlyphs">5000</text>
<line x1="183.20" y1="698.80" x2="186.20" y2="698.80" stroke="#222" stroke-width="1"/>
<text x="179.60" y="701.20" font-size="7.0" fill="#333" stroke="#333" stroke-width="0.2" text-anchor="end" textLength="19.5" lengthAdjust="spacingAndGlyphs">10000</text>
<line x1="183.20" y1="682.20" x2="186.20" y2="682.20" stroke="#222" stroke-width="1"/>
<text x="179.60" y="684.60" font-size="7.0" fill="#333" stroke="#333" stroke-width="0.2" text-anchor="end" textLength="19.5" lengthAdjust="spacingAndGlyphs">15000</text>
<line x1="183.20" y1="665.60" x2="186.20" y2="665.60" stroke="#222" stroke-width="1"/>
<text x="179.60" y="668.00" font-size="7.0" fill="#333" stroke="#333" stroke-width="0.2" text-anchor="end" textLength="19.5" lengthAdjust="spacingAndGlyphs">20000</text>
<line x1="183.20" y1="649.00" x2="186.20" y2="649.00" stroke="#222" stroke-width="1"/>
<text x="179.60" y="651.40" font-size="7.0" fill="#333" stroke="#333" stroke-width="0.2" text-anchor="end" textLength="19.5" lengthAdjust="spacingAndGlyphs">25000</text>
<text x="230.80" y="639.30" font-size="9.7" fill="#626870" stroke="#626870" stroke-width="0.2" text-anchor="middle" textLength="22" lengthAdjust="spacingAndGlyphs">HBL1</text>
<text x="16.30" y="689.00" font-size="9.0" fill="#333" stroke="#333" stroke-width="0.2" text-anchor="middle" textLength="38.3" lengthAdjust="spacingAndGlyphs" transform="rotate(-90 16.30 689.00)">Absorbance</text>
<path d="M142.70,655.60 H144.30 V710.90 H142.70" stroke="#222" stroke-width="0.9" fill="none"/>
<circle cx="147.70" cy="678.19" r="0.95" fill="#1a1a1a"/>
<circle cx="147.70" cy="681.54" r="0.95" fill="#1a1a1a"/>
<circle cx="147.70" cy="684.89" r="0.95" fill="#1a1a1a"/>
<circle cx="147.70" cy="688.24" r="0.95" fill="#1a1a1a"/>
<path d="M133.30,699.20 H134.90 V725.40 H133.30" stroke="#222" stroke-width="0.9" fill="none"/>
<circle cx="138.30" cy="707.49" r="0.95" fill="#1a1a1a"/>
<circle cx="138.30" cy="710.84" r="0.95" fill="#1a1a1a"/>
<circle cx="138.30" cy="714.19" r="0.95" fill="#1a1a1a"/>
<circle cx="138.30" cy="717.54" r="0.95" fill="#1a1a1a"/>
<path d="M142.20,729.20 H143.40 V732.60 H142.20" stroke="#3a1a1a" stroke-width="0.9" fill="none"/>
<circle cx="147.90" cy="725.59" r="0.95" fill="#3a1a1a"/>
<circle cx="147.90" cy="728.94" r="0.95" fill="#3a1a1a"/>
<circle cx="147.90" cy="732.29" r="0.95" fill="#3a1a1a"/>
<circle cx="147.90" cy="735.64" r="0.95" fill="#3a1a1a"/>
<path d="M271.90,665.50 H273.50 V701.70 H271.90" stroke="#222" stroke-width="0.9" fill="none"/>
<circle cx="276.80" cy="678.59" r="0.95" fill="#1a1a1a"/>
<circle cx="276.80" cy="681.94" r="0.95" fill="#1a1a1a"/>
<circle cx="276.80" cy="685.29" r="0.95" fill="#1a1a1a"/>
<circle cx="276.80" cy="688.64" r="0.95" fill="#1a1a1a"/>
<path d="M282.90,692.00 H284.50 V715.90 H282.90" stroke="#222" stroke-width="0.9" fill="none"/>
<circle cx="287.90" cy="698.39" r="0.95" fill="#1a1a1a"/>
<circle cx="287.90" cy="701.74" r="0.95" fill="#1a1a1a"/>
<circle cx="287.90" cy="705.09" r="0.95" fill="#1a1a1a"/>
<circle cx="287.90" cy="708.44" r="0.95" fill="#1a1a1a"/>
<path d="M271.90,706.80 H273.50 V727.10 H271.90" stroke="#222" stroke-width="0.9" fill="none"/>
<circle cx="276.80" cy="711.89" r="0.95" fill="#1a1a1a"/>
<circle cx="276.80" cy="715.24" r="0.95" fill="#1a1a1a"/>
<circle cx="276.80" cy="718.59" r="0.95" fill="#1a1a1a"/>
<circle cx="276.80" cy="721.94" r="0.95" fill="#1a1a1a"/>
<line x1="48.00" y1="754.30" x2="252.40" y2="754.30" stroke="#333" stroke-width="1.0"/>
<text x="261.00" y="756.90" font-size="9.0" stroke="#222" stroke-width="0.2" textLength="15.5" lengthAdjust="spacingAndGlyphs">Days</text>
<rect x="338.20" y="728.37" width="5.60" height="4.23" fill="#DCE6D2"/>
<circle cx="339.50" cy="727.52" r="1.15" fill="#888" stroke="#1a1a1a" stroke-width="0.6"/>
<circle cx="341.50" cy="729.22" r="1.15" fill="#888" stroke="#1a1a1a" stroke-width="0.6"/>
<circle cx="343.00" cy="728.37" r="1.15" fill="#888" stroke="#1a1a1a" stroke-width="0.6"/>
<rect x="348.30" y="705.53" width="5.60" height="27.07" fill="#A6D395"/>
<circle cx="351.10" cy="702.14" r="1.15" fill="#888" stroke="#1a1a1a" stroke-width="0.6"/>
<circle cx="351.10" cy="705.95" r="1.15" fill="#888" stroke="#1a1a1a" stroke-width="0.6"/>
<circle cx="351.10" cy="709.34" r="1.15" fill="#888" stroke="#1a1a1a" stroke-width="0.6"/>
<rect x="358.00" y="671.26" width="5.60" height="61.34" fill="#3BAA3A"/>
<line x1="360.80" y1="663.23" x2="360.80" y2="679.30" stroke="#1a1a1a" stroke-width="0.7"/>
<line x1="359.80" y1="663.23" x2="361.80" y2="663.23" stroke="#1a1a1a" stroke-width="0.7"/>
<line x1="359.80" y1="679.30" x2="361.80" y2="679.30" stroke="#1a1a1a" stroke-width="0.7"/>
<circle cx="358.80" cy="666.61" r="1.15" fill="#2a2a2a" stroke="#1a1a1a" stroke-width="0.6"/>
<circle cx="361.30" cy="670.00" r="1.15" fill="#2a2a2a" stroke="#1a1a1a" stroke-width="0.6"/>
<circle cx="363.80" cy="667.46" r="1.15" fill="#2a2a2a" stroke="#1a1a1a" stroke-width="0.6"/>
<rect x="368.10" y="706.37" width="5.60" height="26.23" fill="#F3BAA8"/>
<line x1="370.90" y1="698.76" x2="370.90" y2="713.14" stroke="#1a1a1a" stroke-width="0.7"/>
<line x1="369.90" y1="698.76" x2="371.90" y2="698.76" stroke="#1a1a1a" stroke-width="0.7"/>
<line x1="369.90" y1="713.14" x2="371.90" y2="713.14" stroke="#1a1a1a" stroke-width="0.7"/>
<circle cx="368.90" cy="700.88" r="1.15" fill="#888" stroke="#1a1a1a" stroke-width="0.6"/>
<circle cx="372.40" cy="702.99" r="1.15" fill="#888" stroke="#1a1a1a" stroke-width="0.6"/>
<circle cx="370.90" cy="713.14" r="1.15" fill="#888" stroke="#1a1a1a" stroke-width="0.6"/>
<rect x="377.70" y="681.42" width="5.60" height="51.18" fill="#E07A68"/>
<line x1="380.50" y1="673.38" x2="380.50" y2="683.53" stroke="#1a1a1a" stroke-width="0.7"/>
<line x1="379.50" y1="673.38" x2="381.50" y2="673.38" stroke="#1a1a1a" stroke-width="0.7"/>
<line x1="379.50" y1="683.53" x2="381.50" y2="683.53" stroke="#1a1a1a" stroke-width="0.7"/>
<circle cx="378.00" cy="681.84" r="1.15" fill="#2a2a2a" stroke="#1a1a1a" stroke-width="0.6"/>
<circle cx="381.00" cy="680.99" r="1.15" fill="#2a2a2a" stroke="#1a1a1a" stroke-width="0.6"/>
<circle cx="384.00" cy="680.15" r="1.15" fill="#2a2a2a" stroke="#1a1a1a" stroke-width="0.6"/>
<rect x="387.45" y="652.65" width="5.60" height="79.95" fill="#C8102E"/>
<circle cx="387.25" cy="650.54" r="1.15" fill="#2a2a2a" stroke="#1a1a1a" stroke-width="0.6"/>
<circle cx="390.25" cy="650.12" r="1.15" fill="#2a2a2a" stroke="#1a1a1a" stroke-width="0.6"/>
<circle cx="393.25" cy="651.38" r="1.15" fill="#2a2a2a" stroke="#1a1a1a" stroke-width="0.6"/>
<line x1="334.70" y1="645.00" x2="334.70" y2="733.10" stroke="#222" stroke-width="1.1"/>
<line x1="334.20" y1="732.60" x2="396.60" y2="732.60" stroke="#222" stroke-width="1.1"/>
<line x1="331.70" y1="715.68" x2="334.70" y2="715.68" stroke="#222" stroke-width="1"/>
<text x="328.10" y="718.08" font-size="7.0" fill="#333" stroke="#333" stroke-width="0.2" text-anchor="end" textLength="7.8" lengthAdjust="spacingAndGlyphs">20</text>
<line x1="331.70" y1="698.76" x2="334.70" y2="698.76" stroke="#222" stroke-width="1"/>
<text x="328.10" y="701.16" font-size="7.0" fill="#333" stroke="#333" stroke-width="0.2" text-anchor="end" textLength="7.8" lengthAdjust="spacingAndGlyphs">40</text>
<line x1="331.70" y1="681.84" x2="334.70" y2="681.84" stroke="#222" stroke-width="1"/>
<text x="328.10" y="684.24" font-size="7.0" fill="#333" stroke="#333" stroke-width="0.2" text-anchor="end" textLength="7.8" lengthAdjust="spacingAndGlyphs">60</text>
<line x1="331.70" y1="664.92" x2="334.70" y2="664.92" stroke="#222" stroke-width="1"/>
<text x="328.10" y="667.32" font-size="7.0" fill="#333" stroke="#333" stroke-width="0.2" text-anchor="end" textLength="7.8" lengthAdjust="spacingAndGlyphs">80</text>
<line x1="331.70" y1="648.00" x2="334.70" y2="648.00" stroke="#222" stroke-width="1"/>
<text x="328.10" y="650.40" font-size="7.0" fill="#333" stroke="#333" stroke-width="0.2" text-anchor="end" textLength="11.7" lengthAdjust="spacingAndGlyphs">100</text>
<text x="365.60" y="639.30" font-size="9.7" fill="#626870" stroke="#626870" stroke-width="0.2" text-anchor="middle" textLength="26" lengthAdjust="spacingAndGlyphs">TMD8</text>
<rect x="440.10" y="726.09" width="5.60" height="6.31" fill="#DCE6D2"/>
<circle cx="440.90" cy="725.56" r="1.15" fill="#888" stroke="#1a1a1a" stroke-width="0.6"/>
<circle cx="442.90" cy="726.61" r="1.15" fill="#888" stroke="#1a1a1a" stroke-width="0.6"/>
<circle cx="445.40" cy="726.09" r="1.15" fill="#888" stroke="#1a1a1a" stroke-width="0.6"/>
<rect x="450.20" y="721.14" width="5.60" height="11.26" fill="#A6D395"/>
<circle cx="451.00" cy="720.30" r="1.15" fill="#888" stroke="#1a1a1a" stroke-width="0.6"/>
<circle cx="453.50" cy="720.82" r="1.15" fill="#888" stroke="#1a1a1a" stroke-width="0.6"/>
<circle cx="456.00" cy="720.51" r="1.15" fill="#888" stroke="#1a1a1a" stroke-width="0.6"/>
<rect x="460.20" y="699.25" width="5.60" height="33.15" fill="#3BAA3A"/>
<line x1="463.00" y1="695.56" x2="463.00" y2="701.88" stroke="#1a1a1a" stroke-width="0.7"/>
<line x1="462.00" y1="695.56" x2="464.00" y2="695.56" stroke="#1a1a1a" stroke-width="0.7"/>
<line x1="462.00" y1="701.88" x2="464.00" y2="701.88" stroke="#1a1a1a" stroke-width="0.7"/>
<circle cx="463.00" cy="695.56" r="1.15" fill="#2a2a2a" stroke="#1a1a1a" stroke-width="0.6"/>
<circle cx="463.00" cy="698.72" r="1.15" fill="#2a2a2a" stroke="#1a1a1a" stroke-width="0.6"/>
<circle cx="463.00" cy="700.83" r="1.15" fill="#2a2a2a" stroke="#1a1a1a" stroke-width="0.6"/>
<rect x="470.00" y="713.46" width="5.60" height="18.94" fill="#F3BAA8"/>
<circle cx="471.30" cy="712.40" r="1.15" fill="#888" stroke="#1a1a1a" stroke-width="0.6"/>
<circle cx="473.30" cy="712.93" r="1.15" fill="#888" stroke="#1a1a1a" stroke-width="0.6"/>
<circle cx="475.30" cy="712.40" r="1.15" fill="#888" stroke="#1a1a1a" stroke-width="0.6"/>
<rect x="479.80" y="674.93" width="5.60" height="57.47" fill="#E07A68"/>
<line x1="482.60" y1="671.36" x2="482.60" y2="677.67" stroke="#1a1a1a" stroke-width="0.7"/>
<line x1="481.60" y1="671.36" x2="483.60" y2="671.36" stroke="#1a1a1a" stroke-width="0.7"/>
<line x1="481.60" y1="677.67" x2="483.60" y2="677.67" stroke="#1a1a1a" stroke-width="0.7"/>
<circle cx="481.10" cy="672.41" r="1.15" fill="#2a2a2a" stroke="#1a1a1a" stroke-width="0.6"/>
<circle cx="482.60" cy="676.62" r="1.15" fill="#2a2a2a" stroke="#1a1a1a" stroke-width="0.6"/>
<circle cx="484.60" cy="673.46" r="1.15" fill="#2a2a2a" stroke="#1a1a1a" stroke-width="0.6"/>
<rect x="489.80" y="662.72" width="5.60" height="69.68" fill="#C8102E"/>
<line x1="492.60" y1="657.67" x2="492.60" y2="668.20" stroke="#1a1a1a" stroke-width="0.7"/>
<line x1="491.60" y1="657.67" x2="493.60" y2="657.67" stroke="#1a1a1a" stroke-width="0.7"/>
<line x1="491.60" y1="668.20" x2="493.60" y2="668.20" stroke="#1a1a1a" stroke-width="0.7"/>
<circle cx="492.60" cy="657.67" r="1.15" fill="#2a2a2a" stroke="#1a1a1a" stroke-width="0.6"/>
<circle cx="492.60" cy="660.83" r="1.15" fill="#2a2a2a" stroke="#1a1a1a" stroke-width="0.6"/>
<circle cx="492.60" cy="666.62" r="1.15" fill="#2a2a2a" stroke="#1a1a1a" stroke-width="0.6"/>
<line x1="435.80" y1="645.00" x2="435.80" y2="732.90" stroke="#222" stroke-width="1.1"/>
<line x1="435.30" y1="732.40" x2="499.70" y2="732.40" stroke="#222" stroke-width="1.1"/>
<line x1="432.80" y1="711.35" x2="435.80" y2="711.35" stroke="#222" stroke-width="1"/>
<text x="429.20" y="713.75" font-size="7.0" fill="#333" stroke="#333" stroke-width="0.2" text-anchor="end" textLength="7.8" lengthAdjust="spacingAndGlyphs">20</text>
<line x1="432.80" y1="690.30" x2="435.80" y2="690.30" stroke="#222" stroke-width="1"/>
<text x="429.20" y="692.70" font-size="7.0" fill="#333" stroke="#333" stroke-width="0.2" text-anchor="end" textLength="7.8" lengthAdjust="spacingAndGlyphs">40</text>
<line x1="432.80" y1="669.25" x2="435.80" y2="669.25" stroke="#222" stroke-width="1"/>
<text x="429.20" y="671.65" font-size="7.0" fill="#333" stroke="#333" stroke-width="0.2" text-anchor="end" textLength="7.8" lengthAdjust="spacingAndGlyphs">60</text>
<line x1="432.80" y1="648.20" x2="435.80" y2="648.20" stroke="#222" stroke-width="1"/>
<text x="429.20" y="650.60" font-size="7.0" fill="#333" stroke="#333" stroke-width="0.2" text-anchor="end" textLength="7.8" lengthAdjust="spacingAndGlyphs">80</text>
<text x="467.80" y="639.30" font-size="9.7" fill="#626870" stroke="#626870" stroke-width="0.2" text-anchor="middle" textLength="21.5" lengthAdjust="spacingAndGlyphs">HBL1</text>
<text x="310.60" y="688.60" font-size="8.8" fill="#333" stroke="#333" stroke-width="0.2" text-anchor="middle" textLength="83.0" lengthAdjust="spacingAndGlyphs" transform="rotate(-90 310.60 688.60)">% of apoptotic cells (96h)</text>
<path d="M340.50,661.90 V660.90 H371.00 V661.90" stroke="#222" stroke-width="0.9" fill="none"/>
<circle cx="355.20" cy="657.30" r="1.1" fill="#1a1a1a"/>
<path d="M348.60,654.50 V653.50 H379.10 V654.50" stroke="#222" stroke-width="0.9" fill="none"/>
<circle cx="362.65" cy="649.90" r="0.9" fill="#1a1a1a"/>
<circle cx="365.95" cy="649.90" r="0.9" fill="#1a1a1a"/>
<path d="M442.20,689.50 V688.50 H473.40 V689.50" stroke="#222" stroke-width="0.9" fill="none"/>
<circle cx="454.40" cy="684.80" r="0.9" fill="#1a1a1a"/>
<circle cx="457.70" cy="684.80" r="0.9" fill="#1a1a1a"/>
<circle cx="461.00" cy="684.80" r="0.9" fill="#1a1a1a"/>
<path d="M452.40,668.30 V667.30 H483.00 V668.30" stroke="#222" stroke-width="0.9" fill="none"/>
<circle cx="464.10" cy="663.60" r="0.9" fill="#1a1a1a"/>
<circle cx="467.40" cy="663.60" r="0.9" fill="#1a1a1a"/>
<circle cx="470.70" cy="663.60" r="0.9" fill="#1a1a1a"/>
<path d="M462.30,655.20 V654.20 H492.80 V655.20" stroke="#222" stroke-width="0.9" fill="none"/>
<circle cx="476.85" cy="650.30" r="0.9" fill="#1a1a1a"/>
<circle cx="480.15" cy="650.30" r="0.9" fill="#1a1a1a"/>
<circle cx="352.70" cy="740.00" r="1.5" fill="#DCE6D2"/>
<text x="358.10" y="742.20" font-size="6.2" fill="#333" stroke="#333" stroke-width="0.2" textLength="7.0" lengthAdjust="spacingAndGlyphs">EV</text>
<circle cx="352.70" cy="749.70" r="1.5" fill="#A6D395"/>
<text x="358.10" y="751.90" font-size="6.2" fill="#333" stroke="#333" stroke-width="0.2" textLength="46.0" lengthAdjust="spacingAndGlyphs">EV + 1 nM IBRU</text>
<circle cx="352.70" cy="759.50" r="1.5" fill="#3BAA3A"/>
<text x="358.10" y="761.70" font-size="6.2" fill="#333" stroke="#333" stroke-width="0.2" textLength="50.0" lengthAdjust="spacingAndGlyphs">EV + 10 nM IBRU</text>
<circle cx="425.40" cy="739.70" r="1.5" fill="#F3BAA8"/>
<text x="429.50" y="741.90" font-size="6.2" fill="#333" stroke="#333" stroke-width="0.2" textLength="24.5" lengthAdjust="spacingAndGlyphs">shDOCK8</text>
<circle cx="425.40" cy="749.30" r="1.5" fill="#E07A68"/>
<text x="429.50" y="751.50" font-size="6.2" fill="#333" stroke="#333" stroke-width="0.2" textLength="64.5" lengthAdjust="spacingAndGlyphs">shDOCK8 + 1 nM IBRU</text>
<circle cx="425.40" cy="759.20" r="1.5" fill="#C8102E"/>
<text x="429.50" y="761.40" font-size="6.2" fill="#333" stroke="#333" stroke-width="0.2" textLength="72.0" lengthAdjust="spacingAndGlyphs">shDOCK8 + 10 nM IBRU</text>
<rect x="0.5" y="0.5" width="519" height="770" fill="none" stroke="#4a4a4a" stroke-width="1"/>
</svg></body></html>
